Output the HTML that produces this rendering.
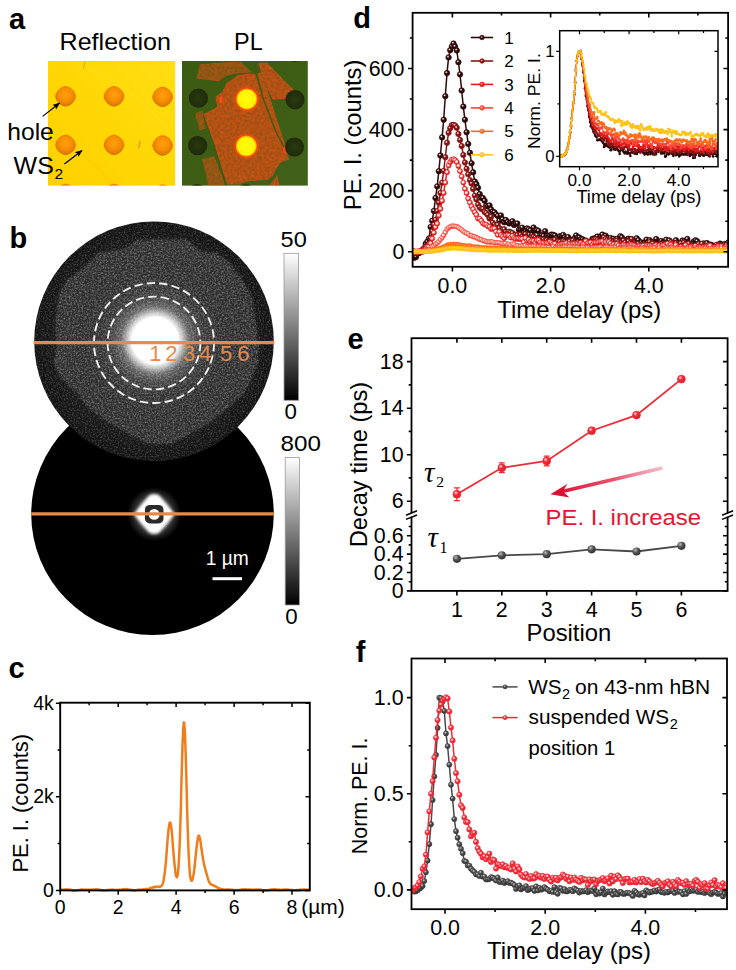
<!DOCTYPE html>
<html><head><meta charset="utf-8"><title>Figure</title>
<style>
html,body{margin:0;padding:0;background:#fff;}
body{width:736px;height:970px;overflow:hidden;font-family:"Liberation Sans",sans-serif;}
svg{display:block;font-family:"Liberation Sans",sans-serif;}
</style></head><body>
<svg width="736" height="970" viewBox="0 0 736 970">
<defs>
<linearGradient id="aYel" x1="0" y1="1" x2="1" y2="0"><stop offset="0" stop-color="#ffd000"/><stop offset="0.5" stop-color="#ffd704"/><stop offset="1" stop-color="#ffde14"/></linearGradient>
<radialGradient id="aHole" cx="0.5" cy="0.42" r="0.55"><stop offset="0" stop-color="#ff9f0a"/><stop offset="0.55" stop-color="#f78f04"/><stop offset="0.85" stop-color="#e67e03"/><stop offset="1" stop-color="#d87406"/></radialGradient>
<filter id="aBlur0" x="-0.1" y="-0.1" width="1.2" height="1.2"><feGaussianBlur stdDeviation="0.35"/></filter>
<clipPath id="aClip1"><rect x="48" y="61" width="127.2" height="124.6"/></clipPath>
<marker id="aArr" viewBox="0 0 10 10" refX="8.5" refY="5" markerWidth="6.5" markerHeight="6.5" orient="auto"><path d="M0 1.2 L10 5 L0 8.8 L2.2 5 Z" fill="#000"/></marker>
<clipPath id="aClip2"><rect x="182" y="61" width="125.8" height="124.6"/></clipPath>
<filter id="aGrain" x="-0.05" y="-0.05" width="1.1" height="1.1"><feGaussianBlur in="SourceGraphic" stdDeviation="0.55" result="s"/><feTurbulence type="fractalNoise" baseFrequency="0.33" numOctaves="2" seed="7" result="n"/><feColorMatrix in="n" type="matrix" values="0 0 0 0 0  0 0 0 0 0  0 0 0 0 0  1.4 1.0 0 0 -0.9" result="a"/><feFlood flood-color="#cf5a1c" result="f"/><feComposite in="f" in2="a" operator="in" result="g"/><feTurbulence type="fractalNoise" baseFrequency="0.4" numOctaves="1" seed="19" result="n2"/><feColorMatrix in="n2" type="matrix" values="0 0 0 0 0  0 0 0 0 0  0 0 0 0 0  0 1.5 0.8 0 -1.0" result="a2"/><feFlood flood-color="#6e5414" result="f2"/><feComposite in="f2" in2="a2" operator="in" result="g2"/><feMerge result="m"><feMergeNode in="s"/><feMergeNode in="g"/><feMergeNode in="g2"/></feMerge><feComposite in="m" in2="s" operator="in"/></filter>
<filter id="aBlur1" x="-0.1" y="-0.1" width="1.2" height="1.2"><feGaussianBlur stdDeviation="0.5"/></filter>
<radialGradient id="aDark" cx="0.5" cy="0.5" r="0.5"><stop offset="0" stop-color="#2b3b0c"/><stop offset="0.7" stop-color="#222f08"/><stop offset="1" stop-color="#1f2a07"/></radialGradient>
<radialGradient id="aSpot" cx="0.5" cy="0.5" r="0.5"><stop offset="0" stop-color="#fffb10"/><stop offset="0.78" stop-color="#fff400"/><stop offset="0.88" stop-color="#ff9a00"/><stop offset="0.96" stop-color="#ff3a08"/><stop offset="1" stop-color="#e0400f" stop-opacity="0.6"/></radialGradient>
<linearGradient id="aGreen" x1="0" y1="0" x2="1" y2="1"><stop offset="0" stop-color="#3a5b10"/><stop offset="1" stop-color="#41601a"/></linearGradient>
<clipPath id="bClipL"><circle cx="152.5" cy="513.8" r="121.3"/></clipPath>
<radialGradient id="bGlowL" cx="0.5" cy="0.5" r="0.5"><stop offset="0" stop-color="#fff"/><stop offset="0.55" stop-color="#fff" stop-opacity="0.95"/><stop offset="0.75" stop-color="#fff" stop-opacity="0.45"/><stop offset="1" stop-color="#fff" stop-opacity="0"/></radialGradient>
<filter id="bBlurS" x="-0.3" y="-0.3" width="1.6" height="1.6"><feGaussianBlur stdDeviation="1.5"/></filter>
<filter id="bBlurT" x="-0.3" y="-0.3" width="1.6" height="1.6"><feGaussianBlur stdDeviation="0.75"/></filter>
<clipPath id="bClipU"><circle cx="154" cy="341.3" r="119.8"/></clipPath>
<radialGradient id="bGlowU" cx="0.5" cy="0.5" r="0.5"><stop offset="0" stop-color="#fff"/><stop offset="0.34" stop-color="#fff"/><stop offset="0.41" stop-color="#fff" stop-opacity="0.7"/><stop offset="0.5" stop-color="#eee" stop-opacity="0.3"/><stop offset="0.65" stop-color="#ccc" stop-opacity="0.11"/><stop offset="0.85" stop-color="#999" stop-opacity="0.03"/><stop offset="1" stop-color="#888" stop-opacity="0"/></radialGradient>
<radialGradient id="bBaseU" cx="0.5" cy="0.5" r="0.5"><stop offset="0" stop-color="#1b1b1b"/><stop offset="0.85" stop-color="#181818"/><stop offset="1" stop-color="#121212"/></radialGradient>
<filter id="bBlurM" x="-0.1" y="-0.1" width="1.2" height="1.2"><feGaussianBlur stdDeviation="1.6"/></filter>
<filter id="bNoise" x="0" y="0" width="1" height="1"><feTurbulence type="fractalNoise" baseFrequency="0.62" numOctaves="2" seed="3" result="n"/><feColorMatrix in="n" type="matrix" values="0 0 0 0 1  0 0 0 0 1  0 0 0 0 1  2.6 0 0 0 -1.12"/></filter>
<clipPath id="bClipB"><polygon points="138,239.6 187,239.6 200,251 216.6,252.6 229.6,262.4 242.7,280 252.5,299.6 255.7,322.4 259,345.2 257.4,364.8 249.2,384.3 242.7,395 229.6,406 210,422.4 187.2,435.4 171,443.6 148,443.6 131.8,435.4 109,422.4 89.4,409.3 76.4,392 69.9,387.6 58.5,374.6 53.6,361.5 56.8,345.2 55.2,322.4 58.5,296.3 66.6,280 86,265.6 99,252.6 125,249"/></clipPath>
<filter id="bNoise2" x="0" y="0" width="1" height="1"><feTurbulence type="fractalNoise" baseFrequency="0.55" numOctaves="2" seed="11" result="n"/><feColorMatrix in="n" type="matrix" values="0 0 0 0 1  0 0 0 0 1  0 0 0 0 1  2.6 0 0 0 -1.12"/></filter>
<linearGradient id="bBar" x1="0" y1="0" x2="0" y2="1"><stop offset="0" stop-color="#fff"/><stop offset="1" stop-color="#000"/></linearGradient>
<clipPath id="cClip"><rect x="60.2" y="700.7" width="249.60000000000002" height="191.69999999999993"/></clipPath>
<radialGradient id="dG0" cx="0.38" cy="0.34" r="0.62"><stop offset="0" stop-color="#fff"/><stop offset="0.16" stop-color="#c9a9a9"/><stop offset="0.42" stop-color="#2e0a0a"/><stop offset="1" stop-color="#2e0a0a"/></radialGradient>
<marker id="dM0" markerUnits="userSpaceOnUse" markerWidth="8" markerHeight="8" refX="4" refY="4"><circle cx="4" cy="4" r="2.75" fill="url(#dG0)" stroke="#2e0a0a" stroke-width="0.7"/></marker>
<marker id="dI0" markerUnits="userSpaceOnUse" markerWidth="5" markerHeight="5" refX="2.5" refY="2.5"><circle cx="2.5" cy="2.5" r="1.25" fill="#2e0a0a"/></marker>
<radialGradient id="dG1" cx="0.38" cy="0.34" r="0.62"><stop offset="0" stop-color="#fff"/><stop offset="0.16" stop-color="#e6b0b0"/><stop offset="0.42" stop-color="#861616"/><stop offset="1" stop-color="#861616"/></radialGradient>
<marker id="dM1" markerUnits="userSpaceOnUse" markerWidth="8" markerHeight="8" refX="4" refY="4"><circle cx="4" cy="4" r="2.7" fill="url(#dG1)" stroke="#861616" stroke-width="0.7"/></marker>
<marker id="dI1" markerUnits="userSpaceOnUse" markerWidth="5" markerHeight="5" refX="2.5" refY="2.5"><circle cx="2.5" cy="2.5" r="1.25" fill="#861616"/></marker>
<radialGradient id="dG2" cx="0.42" cy="0.40" r="0.6"><stop offset="0" stop-color="#fff"/><stop offset="0.35" stop-color="#ffd0d0"/><stop offset="0.8" stop-color="#e51b1b"/><stop offset="1" stop-color="#e51b1b"/></radialGradient>
<marker id="dM2" markerUnits="userSpaceOnUse" markerWidth="8" markerHeight="8" refX="4" refY="4"><circle cx="4" cy="4" r="2.5" fill="url(#dG2)" stroke="#e51b1b" stroke-width="0.7"/></marker>
<marker id="dI2" markerUnits="userSpaceOnUse" markerWidth="5" markerHeight="5" refX="2.5" refY="2.5"><circle cx="2.5" cy="2.5" r="1.25" fill="#e51b1b"/></marker>
<radialGradient id="dG3" cx="0.42" cy="0.40" r="0.6"><stop offset="0" stop-color="#fff"/><stop offset="0.35" stop-color="#fff0ee"/><stop offset="0.8" stop-color="#ff4636"/><stop offset="1" stop-color="#ff4636"/></radialGradient>
<marker id="dM3" markerUnits="userSpaceOnUse" markerWidth="8" markerHeight="8" refX="4" refY="4"><circle cx="4" cy="4" r="2.3" fill="url(#dG3)" stroke="#ff4636" stroke-width="0.7"/></marker>
<marker id="dI3" markerUnits="userSpaceOnUse" markerWidth="5" markerHeight="5" refX="2.5" refY="2.5"><circle cx="2.5" cy="2.5" r="1.25" fill="#ff4636"/></marker>
<radialGradient id="dG4" cx="0.42" cy="0.40" r="0.6"><stop offset="0" stop-color="#fff2e6"/><stop offset="0.4" stop-color="#ff6a1a"/><stop offset="1" stop-color="#ff6a1a"/></radialGradient>
<marker id="dM4" markerUnits="userSpaceOnUse" markerWidth="8" markerHeight="8" refX="4" refY="4"><circle cx="4" cy="4" r="2.1" fill="url(#dG4)" stroke="#ff6a1a" stroke-width="0.7"/></marker>
<marker id="dI4" markerUnits="userSpaceOnUse" markerWidth="5" markerHeight="5" refX="2.5" refY="2.5"><circle cx="2.5" cy="2.5" r="1.25" fill="#ff6a1a"/></marker>
<radialGradient id="dG5" cx="0.42" cy="0.40" r="0.6"><stop offset="0" stop-color="#fff6d8"/><stop offset="0.4" stop-color="#ffc318"/><stop offset="1" stop-color="#ffc318"/></radialGradient>
<marker id="dM5" markerUnits="userSpaceOnUse" markerWidth="8" markerHeight="8" refX="4" refY="4"><circle cx="4" cy="4" r="2.1" fill="url(#dG5)" stroke="#ffc318" stroke-width="0.7"/></marker>
<marker id="dI5" markerUnits="userSpaceOnUse" markerWidth="5" markerHeight="5" refX="2.5" refY="2.5"><circle cx="2.5" cy="2.5" r="1.25" fill="#ffc318"/></marker>
<clipPath id="dClip"><rect x="412.6" y="12.8" width="315.5" height="254.0"/></clipPath>
<radialGradient id="dL0" cx="0.4" cy="0.38" r="0.6"><stop offset="0" stop-color="#c9a9a9"/><stop offset="0.5" stop-color="#2e0a0a"/><stop offset="1" stop-color="#2e0a0a"/></radialGradient>
<radialGradient id="dL1" cx="0.4" cy="0.38" r="0.6"><stop offset="0" stop-color="#e6b0b0"/><stop offset="0.5" stop-color="#861616"/><stop offset="1" stop-color="#861616"/></radialGradient>
<radialGradient id="dL2" cx="0.4" cy="0.38" r="0.6"><stop offset="0" stop-color="#ffd0d0"/><stop offset="0.5" stop-color="#e51b1b"/><stop offset="1" stop-color="#e51b1b"/></radialGradient>
<radialGradient id="dL3" cx="0.4" cy="0.38" r="0.6"><stop offset="0" stop-color="#fff0ee"/><stop offset="0.5" stop-color="#ff4636"/><stop offset="1" stop-color="#ff4636"/></radialGradient>
<radialGradient id="dL4" cx="0.4" cy="0.38" r="0.6"><stop offset="0" stop-color="#fff2e6"/><stop offset="0.5" stop-color="#ff6a1a"/><stop offset="1" stop-color="#ff6a1a"/></radialGradient>
<radialGradient id="dL5" cx="0.4" cy="0.38" r="0.6"><stop offset="0" stop-color="#fff6d8"/><stop offset="0.5" stop-color="#ffc318"/><stop offset="1" stop-color="#ffc318"/></radialGradient>
<clipPath id="iClip"><rect x="559.7" y="30.7" width="158.29999999999995" height="136.0"/></clipPath>
<radialGradient id="eGR" cx="0.36" cy="0.32" r="0.65"><stop offset="0" stop-color="#ffd9dc"/><stop offset="0.45" stop-color="#ee2a36"/><stop offset="1" stop-color="#e21f2c"/></radialGradient>
<radialGradient id="eGG" cx="0.36" cy="0.32" r="0.65"><stop offset="0" stop-color="#b9b9b9"/><stop offset="0.5" stop-color="#555"/><stop offset="1" stop-color="#333"/></radialGradient>
<linearGradient id="eArr" gradientUnits="userSpaceOnUse" x1="662.4" y1="468" x2="556" y2="493"><stop offset="0" stop-color="#f4a6b4" stop-opacity="0.75"/><stop offset="0.45" stop-color="#e9536f"/><stop offset="1" stop-color="#dc1238"/></linearGradient>
<radialGradient id="fGG" cx="0.38" cy="0.34" r="0.62"><stop offset="0" stop-color="#cfcfcf"/><stop offset="0.5" stop-color="#4a4a4a"/><stop offset="1" stop-color="#3a3a3a"/></radialGradient>
<radialGradient id="fGR" cx="0.38" cy="0.34" r="0.62"><stop offset="0" stop-color="#ffeaea"/><stop offset="0.22" stop-color="#ffb4b8"/><stop offset="0.55" stop-color="#ee2a36"/><stop offset="1" stop-color="#ee2a36"/></radialGradient>
<marker id="fMG" markerUnits="userSpaceOnUse" markerWidth="8" markerHeight="8" refX="4" refY="4"><circle cx="4" cy="4" r="2.6" fill="url(#fGG)" stroke="#3c3c3c" stroke-width="0.5"/></marker>
<marker id="fMR" markerUnits="userSpaceOnUse" markerWidth="8" markerHeight="8" refX="4" refY="4"><circle cx="4" cy="4" r="2.6" fill="url(#fGR)" stroke="#ee2a36" stroke-width="0.7"/></marker>
<clipPath id="fClip"><rect x="411.5" y="658.5" width="315.5" height="250.70000000000005"/></clipPath>
</defs>
<rect width="736" height="970" fill="#fff"/>
<g id="panel-a">
<text x="9.00" y="28.80" font-size="29" font-weight="bold">a</text>
<text x="59.60" y="50.00" font-size="24" textLength="111.4" lengthAdjust="spacingAndGlyphs">Reflection</text>
<text x="234.00" y="50.00" font-size="24" textLength="28.7" lengthAdjust="spacingAndGlyphs">PL</text>
<rect x="48" y="61" width="127.2" height="124.6" fill="url(#aYel)"/>
<g clip-path="url(#aClip1)">
<path d="M48 140 Q 90 150 112 186" fill="none" stroke="#f3c300" stroke-width="1" opacity="0.7"/>
<path d="M60 61 Q 110 70 150 110 T 175 175" fill="none" stroke="#ffe23a" stroke-width="1.2" opacity="0.3"/>
<path d="M85.1 61.4 L83.6 68.8" stroke="#f29a10" stroke-width="1"/>
<path d="M140.2 140.8 L138.6 148.2" stroke="#f0860c" stroke-width="1.2"/>
<polygon points="75.9,96.3 75.8,97.3 75.5,98.4 75,99.7 74.3,100.9 73.5,102.1 72.5,103.2 71.4,104.2 70.2,105 69,105.7 67.7,106.2 66.6,106.5 65.6,106.6 64.6,106.5 63.5,106.2 62.2,105.7 61,105 59.8,104.2 58.7,103.2 57.7,102.1 56.9,100.9 56.2,99.7 55.7,98.4 55.4,97.3 55.3,96.3 55.4,95.3 55.7,94.2 56.2,92.9 56.9,91.7 57.7,90.5 58.7,89.4 59.8,88.4 61,87.6 62.2,86.9 63.5,86.4 64.6,86.1 65.6,86 66.6,86.1 67.7,86.4 69,86.9 70.2,87.6 71.4,88.4 72.5,89.4 73.5,90.5 74.3,91.7 75,92.9 75.5,94.2 75.8,95.3" fill="url(#aHole)" filter="url(#aBlur0)"/>
<polygon points="124.3,96.3 124.2,97.3 123.9,98.4 123.4,99.7 122.7,100.9 121.9,102.1 120.9,103.2 119.8,104.2 118.6,105 117.4,105.7 116.1,106.2 115,106.5 114,106.6 113,106.5 111.9,106.2 110.6,105.7 109.4,105 108.2,104.2 107.1,103.2 106.1,102.1 105.3,100.9 104.6,99.7 104.1,98.4 103.8,97.3 103.7,96.3 103.8,95.3 104.1,94.2 104.6,92.9 105.3,91.7 106.1,90.5 107.1,89.4 108.2,88.4 109.4,87.6 110.6,86.9 111.9,86.4 113,86.1 114,86 115,86.1 116.1,86.4 117.4,86.9 118.6,87.6 119.8,88.4 120.9,89.4 121.9,90.5 122.7,91.7 123.4,92.9 123.9,94.2 124.2,95.3" fill="url(#aHole)" filter="url(#aBlur0)"/>
<polygon points="172.9,96.9 172.8,97.9 172.5,99 172,100.3 171.3,101.5 170.5,102.7 169.5,103.8 168.4,104.8 167.2,105.6 166,106.3 164.7,106.8 163.6,107.1 162.6,107.2 161.6,107.1 160.5,106.8 159.2,106.3 158,105.6 156.8,104.8 155.7,103.8 154.7,102.7 153.9,101.5 153.2,100.3 152.7,99 152.4,97.9 152.3,96.9 152.4,95.9 152.7,94.8 153.2,93.5 153.9,92.3 154.7,91.1 155.7,90 156.8,89 158,88.2 159.2,87.5 160.5,87 161.6,86.7 162.6,86.6 163.6,86.7 164.7,87 166,87.5 167.2,88.2 168.4,89 169.5,90 170.5,91.1 171.3,92.3 172,93.5 172.5,94.8 172.8,95.9" fill="url(#aHole)" filter="url(#aBlur0)"/>
<polygon points="75.9,144.9 75.8,145.9 75.5,147 75,148.3 74.3,149.5 73.5,150.7 72.5,151.8 71.4,152.8 70.2,153.6 69,154.3 67.7,154.8 66.6,155.1 65.6,155.2 64.6,155.1 63.5,154.8 62.2,154.3 61,153.6 59.8,152.8 58.7,151.8 57.7,150.7 56.9,149.5 56.2,148.3 55.7,147 55.4,145.9 55.3,144.9 55.4,143.9 55.7,142.8 56.2,141.5 56.9,140.3 57.7,139.1 58.7,138 59.8,137 61,136.2 62.2,135.5 63.5,135 64.6,134.7 65.6,134.6 66.6,134.7 67.7,135 69,135.5 70.2,136.2 71.4,137 72.5,138 73.5,139.1 74.3,140.3 75,141.5 75.5,142.8 75.8,143.9" fill="url(#aHole)" filter="url(#aBlur0)"/>
<polygon points="124.3,144.9 124.2,145.9 123.9,147 123.4,148.3 122.7,149.5 121.9,150.7 120.9,151.8 119.8,152.8 118.6,153.6 117.4,154.3 116.1,154.8 115,155.1 114,155.2 113,155.1 111.9,154.8 110.6,154.3 109.4,153.6 108.2,152.8 107.1,151.8 106.1,150.7 105.3,149.5 104.6,148.3 104.1,147 103.8,145.9 103.7,144.9 103.8,143.9 104.1,142.8 104.6,141.5 105.3,140.3 106.1,139.1 107.1,138 108.2,137 109.4,136.2 110.6,135.5 111.9,135 113,134.7 114,134.6 115,134.7 116.1,135 117.4,135.5 118.6,136.2 119.8,137 120.9,138 121.9,139.1 122.7,140.3 123.4,141.5 123.9,142.8 124.2,143.9" fill="url(#aHole)" filter="url(#aBlur0)"/>
<polygon points="172.9,145.5 172.8,146.5 172.5,147.6 172,148.9 171.3,150.1 170.5,151.3 169.5,152.4 168.4,153.4 167.2,154.2 166,154.9 164.7,155.4 163.6,155.7 162.6,155.8 161.6,155.7 160.5,155.4 159.2,154.9 158,154.2 156.8,153.4 155.7,152.4 154.7,151.3 153.9,150.1 153.2,148.9 152.7,147.6 152.4,146.5 152.3,145.5 152.4,144.5 152.7,143.4 153.2,142.1 153.9,140.9 154.7,139.7 155.7,138.6 156.8,137.6 158,136.8 159.2,136.1 160.5,135.6 161.6,135.3 162.6,135.2 163.6,135.3 164.7,135.6 166,136.1 167.2,136.8 168.4,137.6 169.5,138.6 170.5,139.7 171.3,140.9 172,142.1 172.5,143.4 172.8,144.5" fill="url(#aHole)" filter="url(#aBlur0)"/>
<polygon points="75.9,194 75.8,195 75.5,196.1 75,197.4 74.3,198.6 73.5,199.8 72.5,200.9 71.4,201.9 70.2,202.7 69,203.4 67.7,203.9 66.6,204.2 65.6,204.3 64.6,204.2 63.5,203.9 62.2,203.4 61,202.7 59.8,201.9 58.7,200.9 57.7,199.8 56.9,198.6 56.2,197.4 55.7,196.1 55.4,195 55.3,194 55.4,193 55.7,191.9 56.2,190.6 56.9,189.4 57.7,188.2 58.7,187.1 59.8,186.1 61,185.3 62.2,184.6 63.5,184.1 64.6,183.8 65.6,183.7 66.6,183.8 67.7,184.1 69,184.6 70.2,185.3 71.4,186.1 72.5,187.1 73.5,188.2 74.3,189.4 75,190.6 75.5,191.9 75.8,193" fill="url(#aHole)" filter="url(#aBlur0)"/>
<polygon points="124.3,194 124.2,195 123.9,196.1 123.4,197.4 122.7,198.6 121.9,199.8 120.9,200.9 119.8,201.9 118.6,202.7 117.4,203.4 116.1,203.9 115,204.2 114,204.3 113,204.2 111.9,203.9 110.6,203.4 109.4,202.7 108.2,201.9 107.1,200.9 106.1,199.8 105.3,198.6 104.6,197.4 104.1,196.1 103.8,195 103.7,194 103.8,193 104.1,191.9 104.6,190.6 105.3,189.4 106.1,188.2 107.1,187.1 108.2,186.1 109.4,185.3 110.6,184.6 111.9,184.1 113,183.8 114,183.7 115,183.8 116.1,184.1 117.4,184.6 118.6,185.3 119.8,186.1 120.9,187.1 121.9,188.2 122.7,189.4 123.4,190.6 123.9,191.9 124.2,193" fill="url(#aHole)" filter="url(#aBlur0)"/>
<polygon points="172.9,194.6 172.8,195.6 172.5,196.7 172,198 171.3,199.2 170.5,200.4 169.5,201.5 168.4,202.5 167.2,203.3 166,204 164.7,204.5 163.6,204.8 162.6,204.9 161.6,204.8 160.5,204.5 159.2,204 158,203.3 156.8,202.5 155.7,201.5 154.7,200.4 153.9,199.2 153.2,198 152.7,196.7 152.4,195.6 152.3,194.6 152.4,193.6 152.7,192.5 153.2,191.2 153.9,190 154.7,188.8 155.7,187.7 156.8,186.7 158,185.9 159.2,185.2 160.5,184.7 161.6,184.4 162.6,184.3 163.6,184.4 164.7,184.7 166,185.2 167.2,185.9 168.4,186.7 169.5,187.7 170.5,188.8 171.3,190 172,191.2 172.5,192.5 172.8,193.6" fill="url(#aHole)" filter="url(#aBlur0)"/>
</g>
<text x="7.30" y="139.60" font-size="24" textLength="46.5" lengthAdjust="spacingAndGlyphs">hole</text>
<text x="13.60" y="174.30" font-size="24" textLength="40.2" lengthAdjust="spacingAndGlyphs">WS</text>
<text x="54.40" y="178.60" font-size="15.5">2</text>
<path d="M42.6 116.4 L59.3 103.3" stroke="#000" stroke-width="1.2" marker-end="url(#aArr)"/>
<path d="M64.4 163.9 L81.8 150.7" stroke="#000" stroke-width="1.2" marker-end="url(#aArr)"/>
<rect x="182" y="61" width="125.8" height="124.6" fill="url(#aGreen)"/>
<g clip-path="url(#aClip2)">
<g fill="#b4501c" filter="url(#aGrain)">
<polygon points="199.8,64.2 229.9,61.8 240.8,61.8 252.6,72.4 238.1,73.3 226.2,76 219,81.5 196.2,78.8" opacity="0.82"/>
<polygon points="203.5,114.3 217.1,107 215.3,97 222.6,91.5 226.2,83.3 238.1,75.1 250.8,73.3 255.4,74.2 258.1,83.3 260.8,92.4 269,116.1 277.2,134.3 284.5,147 289.1,159.8 280.9,162.5 276.3,168.9 272.7,176.2 267.2,179.8 247.2,181.6 239.9,184.4 227.2,184.4 223.5,174.3 213.5,143.4 203.5,117.9"/>
<polygon points="258.1,62.4 267.2,62.4 280,76 294.5,90.6 287.2,92.4 285.4,98.8 272.7,99.7 267.2,88.8 260.8,72.4"/>
<polygon points="196.2,112.4 202.6,110.6 205.3,128.8 199.8,130.6 195.3,116.1" opacity="0.82"/>
<polygon points="201.7,158.9 214.4,156.1 225.7,185.6 208,185.6 205.3,172.5" opacity="0.82"/>
<polygon points="269,185.6 277.2,175.3 279.6,185.6"/>
<polygon points="256.3,73.3 260.8,72.4 267.2,88.8 280,128.8 287.2,150.7 289.4,160.1 284.5,147 277.2,134.3 269,116.1 260.8,92.4"/>
</g>
<path d="M254.1,61.5 L256.7,74.2 L263.6,99.7 L276.3,132.5 L285.8,150.7" fill="none" stroke="#3e5a12" stroke-width="1.5" opacity="0.95"/>
<path d="M203.5,116.1 L214.4,147 L226.2,185.6" fill="none" stroke="#3c5a12" stroke-width="1.4"/>
<ellipse cx="221.1" cy="99.7" rx="1.4" ry="3.6" fill="#ff4a10" filter="url(#aBlur1)"/>
<ellipse cx="284.9" cy="149.8" rx="1.8" ry="3.2" fill="#ff4a10" filter="url(#aBlur1)"/>
<circle cx="198.4" cy="98.2" r="9.6" fill="url(#aDark)" filter="url(#aBlur1)"/>
<circle cx="295.1" cy="99.7" r="9.6" fill="url(#aDark)" filter="url(#aBlur1)"/>
<circle cx="197.7" cy="145.6" r="9.6" fill="url(#aDark)" filter="url(#aBlur1)"/>
<circle cx="294.5" cy="147.0" r="9.6" fill="url(#aDark)" filter="url(#aBlur1)"/>
<circle cx="197.1" cy="193.5" r="9.6" fill="url(#aDark)" filter="url(#aBlur1)"/>
<circle cx="245.7" cy="193.8" r="9.6" fill="url(#aDark)" filter="url(#aBlur1)"/>
<circle cx="294.5" cy="52.4" r="9.6" fill="url(#aDark)" filter="url(#aBlur1)"/>
<circle cx="245.7" cy="51.4" r="9.6" fill="url(#aDark)" filter="url(#aBlur1)"/>
<circle cx="246.8" cy="99.1" r="12.6" fill="#ff5410" opacity="0.45" filter="url(#aBlur1)"/>
<circle cx="246.8" cy="99.1" r="11.4" fill="url(#aSpot)"/>
<circle cx="246.3" cy="146.1" r="12.6" fill="#ff5410" opacity="0.45" filter="url(#aBlur1)"/>
<circle cx="246.3" cy="146.1" r="11.4" fill="url(#aSpot)"/>
</g>
</g>
<g id="panel-b">
<text x="9.50" y="247.60" font-size="29" font-weight="bold">b</text>
<circle cx="152.5" cy="513.8" r="121.3" fill="#000"/>
<circle cx="154.2" cy="514.2" r="27" fill="url(#bGlowL)" opacity="0.35"/>
<path d="M133.7 514.2 Q140.2 505.20000000000005 149.2 495.20000000000005 Q154.2 492.70000000000005 159.2 495.20000000000005 Q168.2 505.20000000000005 174.7 514.2 Q168.2 523.2 159.2 532.7 Q154.2 535.2 149.2 532.7 Q140.2 523.2 133.7 514.2 Z" fill="#fff" filter="url(#bBlurS)"/>
<rect x="144.89999999999998" y="504.90000000000003" width="18.6" height="18.6" rx="5" fill="#2a2a2a" filter="url(#bBlurT)"/>
<circle cx="154.2" cy="514.4000000000001" r="5.4" fill="#fff" filter="url(#bBlurT)"/>
<path d="M31.2 513.8 H273.8" stroke="#e78b48" stroke-width="3.3"/>
<text x="205.80" y="564.60" font-size="20" fill="#fff" textLength="43.0" lengthAdjust="spacingAndGlyphs">1 µm</text>
<rect x="212.5" y="577.2" width="29.5" height="3" fill="#fff"/>
<circle cx="154" cy="341.3" r="119.8" fill="url(#bBaseU)"/>
<g clip-path="url(#bClipU)">
<polygon points="138,239.6 187,239.6 200,251 216.6,252.6 229.6,262.4 242.7,280 252.5,299.6 255.7,322.4 259,345.2 257.4,364.8 249.2,384.3 242.7,395 229.6,406 210,422.4 187.2,435.4 171,443.6 148,443.6 131.8,435.4 109,422.4 89.4,409.3 76.4,392 69.9,387.6 58.5,374.6 53.6,361.5 56.8,345.2 55.2,322.4 58.5,296.3 66.6,280 86,265.6 99,252.6 125,249" fill="#2b2b2b" filter="url(#bBlurM)"/>
<circle cx="155" cy="340.5" r="68" fill="url(#bGlowU)"/>
<rect x="30" y="218" width="250" height="248" fill="#fff" filter="url(#bNoise)" opacity="0.2"/>
<g clip-path="url(#bClipB)"><rect x="30" y="218" width="250" height="248" fill="#fff" filter="url(#bNoise2)" opacity="0.26"/></g>
</g>
<circle cx="154" cy="343" r="60" fill="none" stroke="#efefef" stroke-width="1.9" stroke-dasharray="8.4 4.1"/>
<circle cx="154" cy="343" r="46.4" fill="none" stroke="#efefef" stroke-width="1.9" stroke-dasharray="8.4 4.1"/>
<path d="M33.6 342.6 H274.4" stroke="#e78b48" stroke-width="3.3"/>
<text x="155.40" y="360.80" font-size="22" text-anchor="middle" fill="#e78b48">1</text>
<text x="171.40" y="360.80" font-size="22" text-anchor="middle" fill="#e78b48">2</text>
<text x="189.20" y="360.80" font-size="22" text-anchor="middle" fill="#e78b48">3</text>
<text x="205.20" y="360.80" font-size="22" text-anchor="middle" fill="#e78b48">4</text>
<text x="226.20" y="360.80" font-size="22" text-anchor="middle" fill="#e78b48">5</text>
<text x="243.40" y="360.80" font-size="22" text-anchor="middle" fill="#e78b48">6</text>
<rect x="284" y="253.3" width="14.6" height="147" fill="url(#bBar)" stroke="#9a9a9a" stroke-width="0.8"/>
<rect x="285.2" y="457.6" width="14.2" height="147.4" fill="url(#bBar)" stroke="#9a9a9a" stroke-width="0.8"/>
<text x="280.60" y="247.20" font-size="22.3" textLength="26.2" lengthAdjust="spacingAndGlyphs">50</text>
<text x="284.60" y="419.40" font-size="22.3">0</text>
<text x="280.60" y="451.40" font-size="22.3" textLength="40.4" lengthAdjust="spacingAndGlyphs">800</text>
<text x="285.20" y="624.40" font-size="22.3">0</text>
</g>
<g id="panel-c">
<text x="8.60" y="677.60" font-size="29" font-weight="bold">c</text>
<polyline clip-path="url(#cClip)" points="60.2,889.9 60.8,889.8 61.4,889.6 61.9,889.8 62.5,889.7 63.1,889.6 63.7,889.8 64.3,889.6 64.8,889.5 65.4,889.4 66,889.7 66.6,889.6 67.2,889.7 67.7,889.4 68.3,889.5 68.9,889.9 69.5,889.5 70.1,889.6 70.6,889.8 71.2,889.9 71.8,890.3 72.4,890.5 73,890.2 73.5,890.6 74.1,890.5 74.7,890.5 75.3,890.7 75.8,890.4 76.4,890.4 77,890.1 77.6,890.2 78.2,890.1 78.7,890.1 79.3,889.9 79.9,889.9 80.5,889.9 81.1,889.5 81.6,889.4 82.2,889.5 82.8,889.5 83.4,889.7 84,889.8 84.5,889.8 85.1,889.9 85.7,889.6 86.3,889.8 86.9,889.6 87.4,889.9 88,889.6 88.6,889.7 89.2,890.1 89.8,890 90.3,889.6 90.9,889.8 91.5,889.5 92.1,889.8 92.7,889.9 93.2,889.5 93.8,889.4 94.4,889.6 95,889.7 95.6,889.5 96.1,889.1 96.7,889.3 97.3,889.7 97.9,889.6 98.5,889.8 99,889.9 99.6,889.6 100.2,890 100.8,889.9 101.4,890.1 101.9,890.3 102.5,890.1 103.1,890.5 103.7,890.2 104.2,890.6 104.8,890.4 105.4,890.5 106,890.4 106.6,890 107.1,890 107.7,890.3 108.3,889.9 108.9,890.2 109.5,890 110,889.7 110.6,889.7 111.2,890 111.8,889.5 112.4,889.9 112.9,889.9 113.5,889.6 114.1,889.9 114.7,889.9 115.3,890.1 115.8,890.1 116.4,889.9 117,890.1 117.6,889.9 118.2,890 118.7,890 119.3,889.6 119.9,889.9 120.5,889.8 121.1,889.5 121.6,889.9 122.2,889.8 122.8,889.3 123.4,889.3 124,889.5 124.5,889.5 125.1,889.2 125.7,889.1 126.3,889.5 126.9,889.1 127.4,889.2 128,889.4 128.6,889.6 129.2,889.9 129.8,890 130.3,889.6 130.9,890.1 131.5,889.9 132.1,890.2 132.7,890 133.2,890.2 133.8,890.4 134.4,890.4 135,890.1 135.5,890.4 136.1,890.3 136.7,890 137.3,889.8 137.9,889.9 138.4,890 139,889.5 139.6,889.8 140.2,889.9 140.8,889.7 141.3,889.5 141.9,889.7 142.5,889.6 143.1,889.4 143.7,889.3 144.2,889.5 144.8,889.3 145.4,889 146,888.9 146.6,889 147.1,888.9 147.7,888.9 148.3,889 148.9,888.9 149.5,888.7 150,888.1 150.6,888 151.2,887.7 151.8,888 152.4,887.5 152.9,887.4 153.5,887.1 154.1,887.2 154.7,886.7 155.3,887.2 155.8,886.9 156.4,886.7 157,886.6 157.6,886.8 158.2,886.8 158.7,886.8 159.3,886.7 159.9,887 160.5,886.7 161.1,886.3 161.6,885.7 162.2,885.1 162.8,883.4 163.4,881.3 163.9,878.5 164.5,874.6 165.1,869.8 165.7,863.8 166.3,857 166.8,850 167.4,842.2 168,835.1 168.6,829.2 169.2,824.9 169.7,822.8 170.3,822.6 170.9,824.8 171.5,829.1 172.1,834.7 172.6,842 173.2,849 173.8,856.6 174.4,862.8 175,868.6 175.5,873.1 176.1,875.9 176.7,877.3 177.3,876.7 177.9,873.6 178.4,868.2 179,859.2 179.6,846.2 180.2,829.3 180.8,809.6 181.3,787.7 181.9,765.2 182.5,745.6 183.1,730.7 183.7,722.4 184.2,722.7 184.8,730.5 185.4,745.6 186,765.1 186.6,787 187.1,808.9 187.7,828.9 188.3,846 188.9,859 189.5,868.7 190,875.3 190.6,878.9 191.2,880.6 191.8,880.8 192.3,879.9 192.9,877.7 193.5,875 194.1,871 194.7,866 195.2,860.6 195.8,854.8 196.4,849 197,843.8 197.6,839.7 198.1,837 198.7,835.6 199.3,836 199.9,838.3 200.5,841.7 201,845.7 201.6,849.5 202.2,854.1 202.8,857.5 203.4,860.9 203.9,863.8 204.5,866 205.1,868.6 205.7,870.6 206.3,872.6 206.8,874.9 207.4,876.6 208,878.8 208.6,880.6 209.2,882.1 209.7,882.8 210.3,883.8 210.9,884.2 211.5,884.6 212.1,884.8 212.6,884.9 213.2,885.3 213.8,885.8 214.4,885.8 215,886.3 215.5,886.6 216.1,886.7 216.7,886.9 217.3,887.5 217.9,887.8 218.4,888.1 219,888.2 219.6,888.5 220.2,888.7 220.7,888.9 221.3,889.3 221.9,889.2 222.5,889.2 223.1,889.8 223.6,889.4 224.2,889.5 224.8,889.8 225.4,889.7 226,889.6 226.5,889.4 227.1,889.7 227.7,889.6 228.3,889.4 228.9,889.5 229.4,889.4 230,889.8 230.6,889.7 231.2,890 231.8,889.8 232.3,889.8 232.9,890 233.5,890 234.1,890.4 234.7,890.1 235.2,890 235.8,890.1 236.4,890.3 237,890.1 237.6,890.3 238.1,889.9 238.7,889.9 239.3,890.1 239.9,890.1 240.5,889.8 241,889.7 241.6,889.5 242.2,889.5 242.8,889.7 243.4,889.2 243.9,889.6 244.5,889.2 245.1,889.6 245.7,889.5 246.3,889.3 246.8,889.7 247.4,889.8 248,889.6 248.6,889.6 249.1,889.6 249.7,889.7 250.3,889.6 250.9,889.9 251.5,889.6 252,890.1 252.6,890 253.2,889.8 253.8,889.9 254.4,889.6 254.9,889.7 255.5,889.7 256.1,889.5 256.7,889.6 257.3,889.7 257.8,889.7 258.4,889.5 259,889.5 259.6,889.9 260.2,889.6 260.7,889.6 261.3,890 261.9,890 262.5,890.3 263.1,890.2 263.6,890.3 264.2,890.3 264.8,890.6 265.4,890.1 266,890.4 266.5,890.4 267.1,890.1 267.7,890.2 268.3,890.2 268.9,890 269.4,890.2 270,889.9 270.6,889.8 271.2,889.4 271.8,889.4 272.3,889.7 272.9,889.5 273.5,889.7 274.1,889.5 274.7,889.3 275.2,889.3 275.8,889.5 276.4,889.7 277,889.8 277.5,889.6 278.1,889.5 278.7,890 279.3,889.6 279.9,890.1 280.4,890 281,890 281.6,889.7 282.2,889.9 282.8,889.8 283.3,889.6 283.9,889.9 284.5,889.5 285.1,889.8 285.7,889.5 286.2,889.7 286.8,889.7 287.4,889.5 288,889.6 288.6,889.7 289.1,889.7 289.7,889.7 290.3,890 290.9,890.1 291.5,889.9 292,890 292.6,890.2 293.2,890.1 293.8,890.3 294.4,890.2 294.9,890.5 295.5,890.3 296.1,890.2 296.7,890.1 297.3,890.4 297.8,890.3 298.4,889.9 299,890.2 299.6,889.7 300.2,889.6 300.7,890 301.3,889.9 301.9,889.5 302.5,889.8 303.1,889.8 303.6,889.4 304.2,889.6 304.8,889.4 305.4,889.9 306,889.7 306.5,889.6 307.1,890 307.7,890 308.3,889.7 308.8,889.6 309.4,889.6 310,890.1" fill="none" stroke="#f07d1c" stroke-width="2.5" stroke-linejoin="round"/>
<path d="M60.2 890.4 v4.3 M60.2 702.7 v4.3 M89.2 890.4 v2.6 M89.2 702.7 v2.6 M118.2 890.4 v4.3 M118.2 702.7 v4.3 M147.1 890.4 v2.6 M147.1 702.7 v2.6 M176.1 890.4 v4.3 M176.1 702.7 v4.3 M205.1 890.4 v2.6 M205.1 702.7 v2.6 M234.1 890.4 v4.3 M234.1 702.7 v4.3 M263.1 890.4 v2.6 M263.1 702.7 v2.6 M292.0 890.4 v4.3 M292.0 702.7 v4.3 M60.2 890.4 h-4.3 M309.8 890.4 h-4.3 M60.2 843.6 h-2.6 M309.8 843.6 h-2.6 M60.2 796.8 h-4.3 M309.8 796.8 h-4.3 M60.2 750.0 h-2.6 M309.8 750.0 h-2.6 M60.2 703.2 h-4.3 M309.8 703.2 h-4.3" stroke="#000" stroke-width="1.5" fill="none"/>
<rect x="60.2" y="702.7" width="249.60000000000002" height="187.69999999999993" fill="none" stroke="#000" stroke-width="1.9"/>
<text x="60.20" y="913.90" font-size="19.5" text-anchor="middle">0</text>
<text x="118.16" y="913.90" font-size="19.5" text-anchor="middle">2</text>
<text x="176.12" y="913.90" font-size="19.5" text-anchor="middle">4</text>
<text x="234.08" y="913.90" font-size="19.5" text-anchor="middle">6</text>
<text x="292.04" y="913.90" font-size="19.5" text-anchor="middle">8</text>
<text x="301.20" y="913.90" font-size="19.5" textLength="43.5" lengthAdjust="spacingAndGlyphs">(µm)</text>
<text x="53.80" y="709.50" font-size="19.5" text-anchor="end">4k</text>
<text x="53.80" y="803.40" font-size="19.5" text-anchor="end">2k</text>
<text x="53.80" y="896.80" font-size="19.5" text-anchor="end">0</text>
<text transform="translate(28.30,803.20) rotate(-90)" font-size="22" text-anchor="middle" textLength="138.6" lengthAdjust="spacingAndGlyphs">PE. I. (counts)</text>
</g>
<g id="panel-d">
<text x="353.20" y="28.20" font-size="29" font-weight="bold">d</text>
<g clip-path="url(#dClip)">
<polyline points="412.6,257.2 414.3,257.8 415.9,257.1 417.5,253.3 419.2,253.1 420.8,251.7 422.4,249.9 424.1,248.8 425.7,243.8 427.3,241.7 429,238.5 430.6,227 432.2,220.8 433.9,210.9 435.5,198 437.2,186.4 438.8,171.2 440.4,155.5 442.1,137.4 443.7,119.7 445.3,96.2 447,73.1 448.6,57.4 450.2,50.2 451.9,46.4 453.5,43.5 455.1,46.6 456.8,50.4 458.4,62.2 460,74.4 461.7,90.5 463.3,106.6 464.9,119.7 466.6,132.3 468.2,143.9 469.9,152.8 471.5,163.3 473.1,172.3 474.8,181.5 476.4,184.1 478,187.8 479.7,194.1 481.3,197.9 482.9,198.1 484.6,200.8 486.2,205.7 487.8,206.5 489.5,205.4 491.1,209.4 492.7,211.6 494.4,212.3 496,214.4 497.7,215.9 499.3,220.8 500.9,215.4 502.6,219.3 504.2,222.3 505.8,220 507.5,222.1 509.1,223.5 510.7,222.5 512.4,221.2 514,225 515.6,223.8 517.3,223.5 518.9,229.8 520.5,229.5 522.2,227.7 523.8,232.6 525.4,230.6 527.1,228.4 528.7,229.2 530.4,230.4 532,234.9 533.6,227.6 535.3,230.6 536.9,230.2 538.5,230.9 540.2,235.2 541.8,235.5 543.4,235.9 545.1,231.2 546.7,236.3 548.3,235.6 550,235.8 551.6,234.6 553.2,234.9 554.9,235.5 556.5,238.2 558.1,241.6 559.8,236.2 561.4,236.3 563.1,234.9 564.7,237.3 566.3,238.4 568,237 569.6,240.5 571.2,239.9 572.9,240.1 574.5,238.2 576.1,235.5 577.8,237.9 579.4,237.5 581,239.2 582.7,239.3 584.3,240.7 585.9,240.6 587.6,244.2 589.2,242.3 590.8,242.4 592.5,238.8 594.1,238.8 595.8,237.7 597.4,236.6 599,239.1 600.7,236.4 602.3,234.6 603.9,237.5 605.6,235.7 607.2,237.9 608.8,240.5 610.5,238 612.1,239.9 613.7,238.8 615.4,240 617,238.9 618.6,243 620.3,236.2 621.9,237.4 623.5,240.2 625.2,241.2 626.8,239.7 628.5,238.7 630.1,239.2 631.7,239.3 633.4,243.3 635,242.1 636.6,238.2 638.3,240.2 639.9,243.2 641.5,242.4 643.2,243.5 644.8,243 646.4,239.7 648.1,242.2 649.7,240.2 651.3,241.9 653,244.9 654.6,243.6 656.2,239 657.9,244.1 659.5,244.7 661.2,241 662.8,242.7 664.4,242.6 666.1,239.7 667.7,244.4 669.3,240.4 671,242.7 672.6,243.4 674.2,242.9 675.9,240.2 677.5,242.8 679.1,245.9 680.8,244.9 682.4,240.6 684,241.4 685.7,244.8 687.3,239 688.9,243.6 690.6,244.9 692.2,243.2 693.9,241.4 695.5,240.3 697.1,241.3 698.8,243.7 700.4,244 702,245.6 703.7,243.4 705.3,244.4 706.9,243.1 708.6,245.7 710.2,244.6 711.8,245.3 713.5,246 715.1,246.1 716.7,246 718.4,246.4 720,243.6 721.6,244.5 723.3,246.9 724.9,244 726.6,244.4 728.2,242.6" fill="none" stroke="#2e0a0a" stroke-width="1.5" stroke-linejoin="round" marker-start="url(#dM0)" marker-mid="url(#dM0)" marker-end="url(#dM0)"/>
<polyline points="412.6,254 414.3,253.4 415.9,253.1 417.5,252.3 419.2,252.1 420.8,251.5 422.4,251.8 424.1,248.1 425.7,246.8 427.3,246.2 429,244 430.6,238.1 432.2,231.3 433.9,224.6 435.5,219.8 437.2,211.1 438.8,202.7 440.4,193 442.1,182.7 443.7,170.9 445.3,157.2 447,142.8 448.6,132.8 450.2,128.2 451.9,125 453.5,124.9 455.1,125.5 456.8,127.8 458.4,134 460,140 461.7,146 463.3,155 464.9,162.5 466.6,168.8 468.2,174.3 469.9,180.1 471.5,183.6 473.1,189 474.8,195.6 476.4,199.4 478,204.5 479.7,207.5 481.3,208.9 482.9,208.9 484.6,212.1 486.2,213.1 487.8,214.9 489.5,218.6 491.1,216.8 492.7,222.7 494.4,224.6 496,225.8 497.7,224.9 499.3,228.2 500.9,230.3 502.6,229.5 504.2,229.3 505.8,231.9 507.5,232.9 509.1,231.6 510.7,232.3 512.4,233 514,236 515.6,234.9 517.3,235.2 518.9,238.8 520.5,234.8 522.2,236.7 523.8,237.6 525.4,234.1 527.1,237.4 528.7,238.9 530.4,238.1 532,237.2 533.6,236.8 535.3,237.9 536.9,238.9 538.5,238.8 540.2,239.3 541.8,240.3 543.4,239.4 545.1,240.6 546.7,240.2 548.3,241.7 550,241.9 551.6,241.2 553.2,241.6 554.9,239.7 556.5,242.7 558.1,241.4 559.8,241.9 561.4,243.8 563.1,241.1 564.7,242.1 566.3,245.3 568,241.7 569.6,241.4 571.2,243.9 572.9,240.5 574.5,242.7 576.1,244.5 577.8,242.2 579.4,243.5 581,244.8 582.7,245.9 584.3,242.5 585.9,243.8 587.6,241.8 589.2,242.1 590.8,243.1 592.5,242.9 594.1,239.5 595.8,239.2 597.4,240.1 599,241.2 600.7,241.6 602.3,240.5 603.9,237.5 605.6,239.1 607.2,240.3 608.8,241.9 610.5,240.4 612.1,242.2 613.7,241.4 615.4,240.8 617,240.6 618.6,242.1 620.3,243 621.9,242.4 623.5,240.5 625.2,242.6 626.8,245.1 628.5,241.3 630.1,243.2 631.7,239.1 633.4,244.5 635,244.2 636.6,244.6 638.3,243.8 639.9,245.3 641.5,246.6 643.2,247.3 644.8,245 646.4,245.5 648.1,245.7 649.7,242.1 651.3,243.9 653,243.5 654.6,245.7 656.2,244.6 657.9,245.2 659.5,245.2 661.2,243.8 662.8,243.7 664.4,243.8 666.1,243.5 667.7,245.2 669.3,243.8 671,242.1 672.6,243.3 674.2,244.2 675.9,243.2 677.5,245.3 679.1,245.3 680.8,243.4 682.4,245.2 684,242.9 685.7,244.2 687.3,243.9 688.9,243.6 690.6,248.1 692.2,245.4 693.9,247.1 695.5,246.1 697.1,245.8 698.8,244.1 700.4,246 702,243.8 703.7,246.8 705.3,246.3 706.9,246.2 708.6,245.1 710.2,246.5 711.8,247.3 713.5,246.9 715.1,248.4 716.7,244.8 718.4,245.5 720,245.8 721.6,246 723.3,247.1 724.9,246.7 726.6,245 728.2,247" fill="none" stroke="#861616" stroke-width="1.5" stroke-linejoin="round" marker-start="url(#dM1)" marker-mid="url(#dM1)" marker-end="url(#dM1)"/>
<polyline points="412.6,250.6 414.3,251.5 415.9,251.5 417.5,251.8 419.2,251 420.8,251.2 422.4,251 424.1,250.6 425.7,249 427.3,246.8 429,246.5 430.6,243.3 432.2,238.6 433.9,232.7 435.5,227.1 437.2,223.6 438.8,215.5 440.4,208.8 442.1,200.8 443.7,192.9 445.3,182.5 447,172.2 448.6,165.4 450.2,162 451.9,159.8 453.5,159.2 455.1,160.1 456.8,162 458.4,165.9 460,171.1 461.7,176.4 463.3,182.5 464.9,188.8 466.6,193 468.2,198.5 469.9,202.6 471.5,206.3 473.1,209.2 474.8,212.2 476.4,214.8 478,218.5 479.7,218.7 481.3,220.8 482.9,223.3 484.6,224.3 486.2,224.6 487.8,226.2 489.5,227 491.1,228.9 492.7,228.8 494.4,228.5 496,231.6 497.7,234.8 499.3,231.8 500.9,235.1 502.6,236.6 504.2,238.2 505.8,235.5 507.5,235.2 509.1,235.7 510.7,237.6 512.4,236 514,238 515.6,238.9 517.3,238.4 518.9,238.6 520.5,239 522.2,238.9 523.8,242 525.4,238.2 527.1,240.8 528.7,239.7 530.4,241.5 532,240.6 533.6,241 535.3,242.5 536.9,240.4 538.5,240.3 540.2,242.5 541.8,244.1 543.4,243.1 545.1,243.7 546.7,243 548.3,243.4 550,241.8 551.6,243 553.2,244 554.9,243.7 556.5,246.9 558.1,245 559.8,245 561.4,244.2 563.1,243.8 564.7,243.9 566.3,243.2 568,244.9 569.6,243.8 571.2,244.3 572.9,244.1 574.5,243.7 576.1,244.3 577.8,243.7 579.4,244 581,242.8 582.7,244 584.3,243.5 585.9,241.1 587.6,243.1 589.2,243.2 590.8,242.5 592.5,244.6 594.1,242.7 595.8,242.5 597.4,242.6 599,241.8 600.7,241.8 602.3,241.3 603.9,243.2 605.6,242.2 607.2,243.4 608.8,242 610.5,243.5 612.1,245.3 613.7,244.3 615.4,245.8 617,244.1 618.6,245.6 620.3,247.6 621.9,246 623.5,244.7 625.2,245.5 626.8,246.5 628.5,245.3 630.1,245.5 631.7,244.6 633.4,245.2 635,245.8 636.6,246.9 638.3,245.9 639.9,245.8 641.5,246.1 643.2,245.7 644.8,247.3 646.4,245.5 648.1,246 649.7,245.6 651.3,246.1 653,246.2 654.6,245.7 656.2,245.1 657.9,246.2 659.5,245.6 661.2,246.6 662.8,245.3 664.4,245.5 666.1,246.5 667.7,243.8 669.3,245.6 671,244.6 672.6,246.2 674.2,247 675.9,245.1 677.5,247.5 679.1,248.5 680.8,246.9 682.4,248.4 684,247.2 685.7,245.3 687.3,247.5 688.9,246.9 690.6,246.7 692.2,247.1 693.9,247.5 695.5,245.9 697.1,247.5 698.8,247.1 700.4,247.3 702,248.7 703.7,247.1 705.3,247.3 706.9,246.6 708.6,246.5 710.2,245.6 711.8,248.9 713.5,247.5 715.1,247.3 716.7,247.6 718.4,246.2 720,246.6 721.6,246.3 723.3,247.9 724.9,247.2 726.6,246.2 728.2,246.5" fill="none" stroke="#e51b1b" stroke-width="1.5" stroke-linejoin="round" marker-start="url(#dM2)" marker-mid="url(#dM2)" marker-end="url(#dM2)"/>
<polyline points="412.6,251.6 414.3,251.9 415.9,251.7 417.5,251.3 419.2,251.5 420.8,251.2 422.4,251.8 424.1,251.2 425.7,250.9 427.3,250.4 429,249.6 430.6,249.3 432.2,246.5 433.9,245.8 435.5,244.2 437.2,243.1 438.8,241.6 440.4,239.5 442.1,237.5 443.7,235.1 445.3,232.2 447,229.3 448.6,227.7 450.2,226.7 451.9,226.1 453.5,226.1 455.1,226.3 456.8,226.6 458.4,227.4 460,228.7 461.7,229.8 463.3,231.2 464.9,232.3 466.6,233.2 468.2,233.9 469.9,235.6 471.5,235.6 473.1,236.6 474.8,236.8 476.4,237.6 478,238.4 479.7,239.4 481.3,239.5 482.9,240.5 484.6,240.9 486.2,241.8 487.8,241.8 489.5,242.1 491.1,241.9 492.7,242 494.4,243 496,242.7 497.7,242.7 499.3,242.7 500.9,243.4 502.6,243.4 504.2,243.9 505.8,243.5 507.5,244.8 509.1,244.2 510.7,245.6 512.4,243.9 514,244.4 515.6,246 517.3,245.5 518.9,246.1 520.5,246.4 522.2,245.9 523.8,246.3 525.4,245.6 527.1,246.4 528.7,246.8 530.4,246.5 532,246.4 533.6,246.2 535.3,246.3 536.9,247.2 538.5,247 540.2,246.9 541.8,247.4 543.4,246.9 545.1,247.5 546.7,247.5 548.3,247.6 550,247.5 551.6,248.2 553.2,246.6 554.9,247.8 556.5,247.9 558.1,248.3 559.8,247.6 561.4,248.1 563.1,247.4 564.7,247 566.3,247.2 568,247.7 569.6,246.9 571.2,247.6 572.9,247.5 574.5,247.5 576.1,247.7 577.8,247.4 579.4,248.1 581,248.4 582.7,247.1 584.3,248 585.9,247.8 587.6,247.6 589.2,248 590.8,248.3 592.5,247.9 594.1,248.2 595.8,247.5 597.4,247.9 599,247.8 600.7,247.3 602.3,248.2 603.9,248.2 605.6,247.3 607.2,247.2 608.8,247.8 610.5,248.3 612.1,247.6 613.7,248 615.4,247.9 617,249.2 618.6,248.5 620.3,248.9 621.9,249 623.5,248.3 625.2,248.2 626.8,248.7 628.5,248.6 630.1,247.9 631.7,248.2 633.4,248.6 635,248.3 636.6,248.5 638.3,249 639.9,248.7 641.5,248.4 643.2,248.3 644.8,249 646.4,248.9 648.1,248.8 649.7,249.2 651.3,248.2 653,248.5 654.6,248.1 656.2,249.6 657.9,249.1 659.5,248 661.2,249.4 662.8,249.6 664.4,248.7 666.1,248 667.7,248.3 669.3,248.9 671,248.3 672.6,248.4 674.2,248.6 675.9,248.7 677.5,248.7 679.1,248.7 680.8,248.6 682.4,248.8 684,249.3 685.7,250 687.3,249 688.9,249.9 690.6,248.3 692.2,249.7 693.9,249.9 695.5,249.9 697.1,248.9 698.8,249 700.4,248.8 702,248.9 703.7,249.3 705.3,248.6 706.9,249.2 708.6,249.5 710.2,248.5 711.8,248.6 713.5,249.2 715.1,248.9 716.7,248.4 718.4,248.4 720,249.2 721.6,248.3 723.3,249.9 724.9,248.8 726.6,248.7 728.2,248.9" fill="none" stroke="#ff4636" stroke-width="1.5" stroke-linejoin="round" marker-start="url(#dM3)" marker-mid="url(#dM3)" marker-end="url(#dM3)"/>
<polyline points="412.6,251.7 414.3,251.5 415.9,251.5 417.5,251.8 419.2,251.4 420.8,251.5 422.4,251.6 424.1,251.3 425.7,251.2 427.3,251.4 429,250.9 430.6,250.8 432.2,250.5 433.9,249.8 435.5,249.5 437.2,249.2 438.8,248.7 440.4,248.2 442.1,247.5 443.7,246.9 445.3,246.2 447,245.1 448.6,244.6 450.2,244.4 451.9,244.3 453.5,244.2 455.1,244.3 456.8,244.5 458.4,244.6 460,244.9 461.7,245.2 463.3,245.4 464.9,245.7 466.6,246 468.2,246 469.9,245.6 471.5,246.9 473.1,246.7 474.8,246.8 476.4,247 478,246.8 479.7,247.5 481.3,247.6 482.9,247.6 484.6,248.1 486.2,247.5 487.8,248.2 489.5,247.9 491.1,247.8 492.7,248.4 494.4,248.3 496,248.4 497.7,248 499.3,248.5 500.9,249 502.6,248.4 504.2,248.5 505.8,249.3 507.5,249.5 509.1,248.3 510.7,249 512.4,249.6 514,248.8 515.6,248.8 517.3,249.8 518.9,248.9 520.5,249.1 522.2,249.3 523.8,249.5 525.4,249.3 527.1,249.6 528.7,249.3 530.4,249.4 532,249.5 533.6,249.2 535.3,249 536.9,249 538.5,249.1 540.2,248.8 541.8,249.6 543.4,249.3 545.1,249.3 546.7,249.1 548.3,249.9 550,249.5 551.6,249.5 553.2,249.4 554.9,248.9 556.5,249.4 558.1,249.4 559.8,249.3 561.4,249.2 563.1,249.5 564.7,249.1 566.3,249.8 568,249.2 569.6,249.4 571.2,249.3 572.9,249.2 574.5,249.7 576.1,249.6 577.8,249.6 579.4,249.9 581,249.9 582.7,250 584.3,249.6 585.9,250.4 587.6,250.1 589.2,249.8 590.8,249.6 592.5,249.9 594.1,249.6 595.8,249.8 597.4,249.9 599,250.1 600.7,249.7 602.3,249.3 603.9,249.6 605.6,249.9 607.2,249.6 608.8,250 610.5,250.1 612.1,249.6 613.7,249.8 615.4,249.7 617,249.9 618.6,250 620.3,250 621.9,250.1 623.5,249.8 625.2,250.3 626.8,250.5 628.5,250.2 630.1,249.8 631.7,250.2 633.4,250.6 635,249.5 636.6,250.3 638.3,250.2 639.9,250 641.5,250.1 643.2,250.2 644.8,250.6 646.4,250.1 648.1,250.5 649.7,250.3 651.3,250.1 653,250.4 654.6,250.8 656.2,250.5 657.9,250.3 659.5,250.2 661.2,250.7 662.8,250.4 664.4,250.3 666.1,250 667.7,250.1 669.3,250.1 671,250.2 672.6,250 674.2,250 675.9,250.3 677.5,250.4 679.1,250 680.8,250.4 682.4,250.5 684,250.2 685.7,250.6 687.3,250.5 688.9,250.1 690.6,250.3 692.2,250.1 693.9,250.1 695.5,250.4 697.1,250.1 698.8,250.3 700.4,250.2 702,250.2 703.7,250.2 705.3,250.5 706.9,250.2 708.6,250.2 710.2,250.1 711.8,250.5 713.5,250.2 715.1,250.3 716.7,250.4 718.4,250.4 720,250.4 721.6,250.6 723.3,250.5 724.9,250.5 726.6,250.3 728.2,250.4" fill="none" stroke="#ff6a1a" stroke-width="1.5" stroke-linejoin="round" marker-start="url(#dM4)" marker-mid="url(#dM4)" marker-end="url(#dM4)"/>
<polyline points="412.6,251.6 414.3,251.6 415.9,251.6 417.5,251.7 419.2,251.6 420.8,251.7 422.4,251.7 424.1,251.6 425.7,251.6 427.3,251.7 429,251.4 430.6,251.5 432.2,251.2 433.9,251 435.5,250.9 437.2,250.3 438.8,250.4 440.4,250.1 442.1,249.8 443.7,249.4 445.3,249.1 447,248.6 448.6,248.4 450.2,248.2 451.9,248.1 453.5,248.1 455.1,248.1 456.8,248.2 458.4,248.4 460,248.5 461.7,248.6 463.3,248.8 464.9,249 466.6,249.1 468.2,249.1 469.9,249.5 471.5,249.5 473.1,249.7 474.8,249.6 476.4,250 478,249.8 479.7,249.8 481.3,249.9 482.9,249.8 484.6,249.9 486.2,250.1 487.8,250.2 489.5,250.3 491.1,250.1 492.7,250.2 494.4,250.2 496,250.4 497.7,250.1 499.3,250.2 500.9,250.2 502.6,250.5 504.2,250 505.8,250.2 507.5,250.5 509.1,250.3 510.7,250.4 512.4,250.5 514,250.5 515.6,250.4 517.3,250.4 518.9,250.4 520.5,250.5 522.2,250.6 523.8,250.4 525.4,250.5 527.1,250.5 528.7,250.4 530.4,250.2 532,250.5 533.6,250.3 535.3,250.5 536.9,250.2 538.5,250.2 540.2,250.3 541.8,250.4 543.4,250.5 545.1,250.5 546.7,250.3 548.3,250.4 550,250.2 551.6,250.6 553.2,250.6 554.9,250.5 556.5,250.5 558.1,250.6 559.8,250.6 561.4,250.6 563.1,250.4 564.7,250.6 566.3,250.7 568,250.6 569.6,251 571.2,250.8 572.9,250.8 574.5,250.7 576.1,251 577.8,250.8 579.4,250.9 581,250.6 582.7,250.6 584.3,250.8 585.9,250.7 587.6,250.9 589.2,250.7 590.8,250.7 592.5,250.6 594.1,250.8 595.8,251 597.4,250.5 599,250.8 600.7,250.7 602.3,250.6 603.9,250.3 605.6,250.6 607.2,250.4 608.8,250.6 610.5,250.8 612.1,250.6 613.7,250.6 615.4,250.8 617,251 618.6,250.4 620.3,250.5 621.9,250.8 623.5,250.8 625.2,250.7 626.8,250.8 628.5,251.1 630.1,251.1 631.7,250.8 633.4,250.7 635,250.8 636.6,250.8 638.3,251 639.9,250.8 641.5,250.8 643.2,250.9 644.8,250.8 646.4,250.8 648.1,251.1 649.7,250.8 651.3,251.1 653,251.1 654.6,250.8 656.2,251.2 657.9,251 659.5,250.9 661.2,250.9 662.8,251 664.4,251 666.1,250.8 667.7,250.7 669.3,250.8 671,250.9 672.6,250.9 674.2,250.8 675.9,250.8 677.5,250.7 679.1,250.9 680.8,250.8 682.4,251 684,251.1 685.7,250.8 687.3,250.9 688.9,251 690.6,250.9 692.2,251 693.9,250.9 695.5,251.1 697.1,250.9 698.8,251 700.4,250.9 702,250.9 703.7,250.9 705.3,251.1 706.9,250.9 708.6,251 710.2,251.1 711.8,251 713.5,250.9 715.1,250.9 716.7,250.7 718.4,251 720,251 721.6,250.7 723.3,251 724.9,251.1 726.6,251 728.2,251" fill="none" stroke="#ffc318" stroke-width="1.5" stroke-linejoin="round" marker-start="url(#dM5)" marker-mid="url(#dM5)" marker-end="url(#dM5)"/>
</g>
<path d="M452.4 266.8 v4.6 M452.4 12.8 v4.6 M501.5 266.8 v2.8 M501.5 12.8 v2.8 M550.6 266.8 v4.6 M550.6 12.8 v4.6 M599.7 266.8 v2.8 M599.7 12.8 v2.8 M648.8 266.8 v4.6 M648.8 12.8 v4.6 M697.9 266.8 v2.8 M697.9 12.8 v2.8 M412.6 251.7 h-4.6 M728.1 251.7 h-4.6 M412.6 221.2 h-2.8 M728.1 221.2 h-2.8 M412.6 190.6 h-4.6 M728.1 190.6 h-4.6 M412.6 160.1 h-2.8 M728.1 160.1 h-2.8 M412.6 129.6 h-4.6 M728.1 129.6 h-4.6 M412.6 99.0 h-2.8 M728.1 99.0 h-2.8 M412.6 68.5 h-4.6 M728.1 68.5 h-4.6 M412.6 38.0 h-2.8 M728.1 38.0 h-2.8" stroke="#000" stroke-width="1.6" fill="none"/>
<rect x="412.6" y="12.8" width="315.5" height="254.0" fill="none" stroke="#000" stroke-width="1.8"/>
<text x="404.40" y="259.00" font-size="21.4" text-anchor="end">0</text>
<text x="404.40" y="197.94" font-size="21.4" text-anchor="end">200</text>
<text x="404.40" y="136.88" font-size="21.4" text-anchor="end">400</text>
<text x="404.40" y="75.82" font-size="21.4" text-anchor="end">600</text>
<text x="452.40" y="292.90" font-size="21.4" text-anchor="middle">0.0</text>
<text x="550.60" y="292.90" font-size="21.4" text-anchor="middle">2.0</text>
<text x="648.80" y="292.90" font-size="21.4" text-anchor="middle">4.0</text>
<text x="579.30" y="318.00" font-size="24" text-anchor="middle" textLength="164.0" lengthAdjust="spacingAndGlyphs">Time delay (ps)</text>
<text transform="translate(361.30,134.90) rotate(-90)" font-size="23.6" text-anchor="middle" textLength="150.6" lengthAdjust="spacingAndGlyphs">PE. I. (counts)</text>
<path d="M470.8 37.5 H493.2" stroke="#2e0a0a" stroke-width="1.6"/>
<circle cx="482" cy="37.5" r="2.3" fill="url(#dL0)" stroke="#2e0a0a" stroke-width="0.7"/>
<text x="504.20" y="43.60" font-size="17">1</text>
<path d="M470.8 61.0 H493.2" stroke="#861616" stroke-width="1.6"/>
<circle cx="482" cy="61.0" r="2.3" fill="url(#dL1)" stroke="#861616" stroke-width="0.7"/>
<text x="504.20" y="67.06" font-size="17">2</text>
<path d="M470.8 84.4 H493.2" stroke="#e51b1b" stroke-width="1.6"/>
<circle cx="482" cy="84.4" r="2.3" fill="url(#dL2)" stroke="#e51b1b" stroke-width="0.7"/>
<text x="504.20" y="90.52" font-size="17">3</text>
<path d="M470.8 107.9 H493.2" stroke="#ff4636" stroke-width="1.6"/>
<circle cx="482" cy="107.9" r="2.3" fill="url(#dL3)" stroke="#ff4636" stroke-width="0.7"/>
<text x="504.20" y="113.98" font-size="17">4</text>
<path d="M470.8 131.3 H493.2" stroke="#ff6a1a" stroke-width="1.6"/>
<circle cx="482" cy="131.3" r="2.3" fill="url(#dL4)" stroke="#ff6a1a" stroke-width="0.7"/>
<text x="504.20" y="137.44" font-size="17">5</text>
<path d="M470.8 154.8 H493.2" stroke="#ffc318" stroke-width="1.6"/>
<circle cx="482" cy="154.8" r="2.3" fill="url(#dL5)" stroke="#ffc318" stroke-width="0.7"/>
<text x="504.20" y="160.90" font-size="17">6</text>
<rect x="559.7" y="30.7" width="158.29999999999995" height="136.0" fill="#fff"/>
<g clip-path="url(#iClip)">
<polyline points="559.4,156.7 560.2,156.2 561.1,155.6 561.9,155.3 562.7,155.2 563.5,155.3 564.4,154.8 565.2,154.1 566,153.1 566.8,150.9 567.7,147.5 568.5,143.2 569.3,137.9 570.1,132.5 571,125.7 571.8,118.9 572.6,110.9 573.5,102.3 574.3,94.5 575.1,82.6 575.9,71 576.8,61.1 577.6,56.2 578.4,52.2 579.2,51.2 580.1,51.6 580.9,53.7 581.7,59.2 582.5,65.7 583.4,72.6 584.2,80.9 585,88.2 585.8,96.1 586.7,99.7 587.5,106.4 588.3,110.2 589.1,117.1 590,122 590.8,126.3 591.6,126.8 592.4,128.5 593.3,131.4 594.1,132.6 594.9,134.8 595.7,136.2 596.6,137.1 597.4,140.3 598.2,140.1 599.1,139.4 599.9,140.1 600.7,139.5 601.5,140.8 602.4,141.8 603.2,142.9 604,146.9 604.8,144 605.7,145.9 606.5,144.3 607.3,145.9 608.1,146.4 609,147.2 609.8,147.2 610.6,150.2 611.4,150 612.3,146 613.1,147.6 613.9,149.2 614.7,149.4 615.6,149.7 616.4,144.4 617.2,148.8 618,149.9 618.9,151.2 619.7,154 620.5,150.4 621.4,148.6 622.2,149.5 623,150.7 623.8,152.3 624.7,153.4 625.5,151.5 626.3,152.4 627.1,153.7 628,149.4 628.8,153.6 629.6,153 630.4,156 631.3,149.6 632.1,152.6 632.9,152.5 633.7,152 634.6,153.8 635.4,153.5 636.2,152.1 637,153.9 637.9,152.1 638.7,150.7 639.5,151.5 640.3,150.5 641.2,151.1 642,150 642.8,152.4 643.6,152.2 644.5,154.6 645.3,153.2 646.1,154.1 647,153.1 647.8,154.6 648.6,152.5 649.4,148.9 650.3,154.3 651.1,152.2 651.9,152.1 652.7,154.3 653.6,153.6 654.4,154 655.2,152.5 656,154.3 656.9,149.1 657.7,151.9 658.5,151.5 659.3,149.9 660.2,151.2 661,153.6 661.8,152.8 662.6,153.4 663.5,153 664.3,151.9 665.1,156.7 665.9,156.2 666.8,154.1 667.6,152.9 668.4,154.4 669.2,153.9 670.1,151.9 670.9,152.6 671.7,153.8 672.6,154.2 673.4,156.1 674.2,153 675,153.6 675.9,155.3 676.7,153 677.5,154.4 678.3,154.4 679.2,156.5 680,152.4 680.8,155.1 681.6,153.4 682.5,153.5 683.3,154.8 684.1,154 684.9,154.3 685.8,154.4 686.6,153.7 687.4,155 688.2,152.9 689.1,153.9 689.9,155.9 690.7,153.4 691.5,154.7 692.4,153.3 693.2,157.9 694,153.6 694.8,157.7 695.7,154.9 696.5,149 697.3,153.1 698.2,152.5 699,155.4 699.8,156 700.6,154.4 701.5,153.6 702.3,154.4 703.1,155.4 703.9,155.7 704.8,154.9 705.6,151.7 706.4,154.3 707.2,154.9 708.1,154.7 708.9,155.8 709.7,156.4 710.5,154 711.4,152.1 712.2,153.5 713,156.5 713.8,151.8 714.7,153.8 715.5,151.2 716.3,154.5 717.1,156.4 718,153.9 718.8,154.5" fill="none" stroke="#2e0a0a" stroke-width="1.2" stroke-linejoin="round" marker-start="url(#dI0)" marker-mid="url(#dI0)" marker-end="url(#dI0)"/>
<polyline points="559.4,156.8 560.2,156.6 561.1,156.3 561.9,156.3 562.7,155.4 563.5,155.2 564.4,155.1 565.2,154.2 566,152.2 566.8,150.5 567.7,148.4 568.5,143.2 569.3,137 570.1,131.9 571,126.1 571.8,118 572.6,109.9 573.5,102.5 574.3,94.5 575.1,83.1 575.9,69.6 576.8,60.8 577.6,55.3 578.4,52.4 579.2,51.4 580.1,51 580.9,53.2 581.7,58 582.5,64.5 583.4,71.5 584.2,77.4 585,88.1 585.8,94.8 586.7,98 587.5,105.9 588.3,109.4 589.1,115.5 590,117.1 590.8,121.7 591.6,123.3 592.4,127.2 593.3,128.1 594.1,132.7 594.9,129.5 595.7,131.3 596.6,132.9 597.4,133.8 598.2,135.4 599.1,135.8 599.9,133.6 600.7,138.2 601.5,138.7 602.4,137.5 603.2,138.8 604,140.6 604.8,137.6 605.7,138 606.5,141.7 607.3,138.7 608.1,144.3 609,140 609.8,145.6 610.6,142.7 611.4,143.9 612.3,144.7 613.1,143.4 613.9,146.3 614.7,146.3 615.6,147.2 616.4,143.1 617.2,146.9 618,145.5 618.9,146.8 619.7,144.9 620.5,148.6 621.4,148.5 622.2,148.3 623,147.2 623.8,149 624.7,147.1 625.5,147.1 626.3,146.4 627.1,147.4 628,146 628.8,149.1 629.6,149.4 630.4,149.8 631.3,149.9 632.1,151.1 632.9,148.2 633.7,148.8 634.6,152.6 635.4,149.3 636.2,150.4 637,150.7 637.9,149.7 638.7,147.2 639.5,149.1 640.3,152.8 641.2,148.9 642,151 642.8,146.7 643.6,150.4 644.5,149.7 645.3,150 646.1,151.1 647,150.4 647.8,149.9 648.6,146 649.4,149.6 650.3,149 651.1,149.7 651.9,149.6 652.7,149.4 653.6,147.6 654.4,155.1 655.2,151.2 656,151.6 656.9,148.7 657.7,151.6 658.5,148.6 659.3,148.4 660.2,151.2 661,149.4 661.8,151.2 662.6,149 663.5,149.5 664.3,148.4 665.1,149.1 665.9,152.2 666.8,148.1 667.6,150.5 668.4,148.8 669.2,150.5 670.1,149.1 670.9,152.7 671.7,148.4 672.6,152.4 673.4,151 674.2,150 675,153.4 675.9,150.2 676.7,150.8 677.5,149.5 678.3,151.1 679.2,152.6 680,152.8 680.8,152.4 681.6,150.8 682.5,151.3 683.3,150 684.1,148.4 684.9,151.6 685.8,151.9 686.6,150.5 687.4,150.4 688.2,154.8 689.1,152.3 689.9,151.1 690.7,150.2 691.5,152.1 692.4,153 693.2,147.8 694,156.6 694.8,148.9 695.7,152.5 696.5,152.1 697.3,151.5 698.2,150.9 699,153.1 699.8,153.9 700.6,151 701.5,149.4 702.3,152.1 703.1,147.7 703.9,153.8 704.8,150.2 705.6,150.8 706.4,149.4 707.2,153.6 708.1,150.6 708.9,151.9 709.7,155.6 710.5,152.5 711.4,154.2 712.2,152.4 713,150.7 713.8,151.9 714.7,148.6 715.5,150.6 716.3,152.8 717.1,152.3 718,151.1 718.8,153" fill="none" stroke="#861616" stroke-width="1.2" stroke-linejoin="round" marker-start="url(#dI1)" marker-mid="url(#dI1)" marker-end="url(#dI1)"/>
<polyline points="559.4,156.1 560.2,156 561.1,155.7 561.9,155.9 562.7,155.6 563.5,155.8 564.4,154.8 565.2,154 566,152.4 566.8,150.5 567.7,148.2 568.5,143.5 569.3,138 570.1,132.5 571,126.4 571.8,119 572.6,110.7 573.5,103.5 574.3,93.3 575.1,82.2 575.9,69.9 576.8,60.8 577.6,55.7 578.4,52.2 579.2,51.2 580.1,51 580.9,53.3 581.7,58 582.5,63.2 583.4,70.8 584.2,78 585,84.1 585.8,90.7 586.7,97.1 587.5,101.1 588.3,106.5 589.1,109.6 590,114.3 590.8,119 591.6,118.1 592.4,122.4 593.3,123.9 594.1,126.3 594.9,126.7 595.7,128.4 596.6,128.1 597.4,129.2 598.2,129.1 599.1,130.5 599.9,133.1 600.7,134.2 601.5,135 602.4,133 603.2,136.2 604,133.3 604.8,135.8 605.7,136.6 606.5,136.8 607.3,134.8 608.1,137.8 609,138.9 609.8,140.4 610.6,141.7 611.4,140.6 612.3,138 613.1,139.4 613.9,141.8 614.7,144.8 615.6,139.5 616.4,141 617.2,145.1 618,142.4 618.9,144.1 619.7,141 620.5,141.8 621.4,144.2 622.2,146.9 623,144 623.8,139.6 624.7,143.2 625.5,145 626.3,142.8 627.1,145.3 628,141.9 628.8,147.5 629.6,145.5 630.4,142.4 631.3,143.1 632.1,144.1 632.9,147.5 633.7,145.2 634.6,144.2 635.4,146.1 636.2,145.4 637,144.1 637.9,146.2 638.7,144.8 639.5,146.2 640.3,147.7 641.2,148.3 642,147.1 642.8,147.5 643.6,144.4 644.5,146 645.3,149.3 646.1,143.8 647,142.3 647.8,147.1 648.6,145.5 649.4,146.6 650.3,145.2 651.1,146.4 651.9,145.8 652.7,146.7 653.6,147.7 654.4,147.3 655.2,148.1 656,148 656.9,147.6 657.7,142.7 658.5,145.7 659.3,144 660.2,149.6 661,147.6 661.8,145.6 662.6,145.2 663.5,146.5 664.3,148.1 665.1,149.8 665.9,147.1 666.8,150.3 667.6,147.1 668.4,148.5 669.2,148.8 670.1,148.9 670.9,150.4 671.7,150 672.6,147.3 673.4,149.1 674.2,149.3 675,146.5 675.9,147.1 676.7,147.5 677.5,150.7 678.3,146.4 679.2,147.3 680,149.9 680.8,149.2 681.6,146.8 682.5,146.3 683.3,148.9 684.1,150.2 684.9,146.3 685.8,149.2 686.6,147 687.4,148.3 688.2,148.6 689.1,149.1 689.9,146 690.7,149.1 691.5,148.4 692.4,149.6 693.2,145.2 694,148.5 694.8,150.5 695.7,148.8 696.5,151.6 697.3,149.1 698.2,150.8 699,146.7 699.8,146.3 700.6,144.8 701.5,149.3 702.3,150.3 703.1,152.3 703.9,148.4 704.8,150.1 705.6,146.6 706.4,145.4 707.2,151.3 708.1,149.1 708.9,146 709.7,151.4 710.5,151 711.4,147.5 712.2,148.4 713,152.1 713.8,148.2 714.7,149.6 715.5,149 716.3,148.4 717.1,146.1 718,147.6 718.8,150.7" fill="none" stroke="#e51b1b" stroke-width="1.2" stroke-linejoin="round" marker-start="url(#dI2)" marker-mid="url(#dI2)" marker-end="url(#dI2)"/>
<polyline points="559.4,155.7 560.2,155.9 561.1,155.9 561.9,156.2 562.7,156 563.5,155.3 564.4,154.2 565.2,153.8 566,152.4 566.8,150.5 567.7,147.8 568.5,143.4 569.3,137.7 570.1,132.8 571,125.7 571.8,118.2 572.6,110.8 573.5,101.9 574.3,92.8 575.1,82.6 575.9,70.9 576.8,60.7 577.6,56.2 578.4,52.3 579.2,51.5 580.1,51.4 580.9,53.2 581.7,57.7 582.5,61.9 583.4,69.4 584.2,76.2 585,83 585.8,89.5 586.7,94.3 587.5,100.3 588.3,103.1 589.1,106.7 590,112.1 590.8,116.4 591.6,116.9 592.4,117.1 593.3,118.6 594.1,120.6 594.9,123.7 595.7,122.9 596.6,124.9 597.4,124.2 598.2,125.6 599.1,128.8 599.9,127.7 600.7,128.4 601.5,127.6 602.4,126.9 603.2,133 604,132 604.8,132.6 605.7,133 606.5,133.1 607.3,130.3 608.1,132.4 609,134.1 609.8,133.4 610.6,134.4 611.4,136 612.3,135.5 613.1,134.9 613.9,134.2 614.7,138.3 615.6,136.6 616.4,136.6 617.2,136.7 618,138.3 618.9,138.6 619.7,141 620.5,140.3 621.4,139.9 622.2,140.3 623,138.5 623.8,140.1 624.7,140.5 625.5,141.3 626.3,139.9 627.1,142.8 628,137.6 628.8,142.9 629.6,141.8 630.4,140.8 631.3,141 632.1,140.2 632.9,144.8 633.7,141.3 634.6,143.5 635.4,138.9 636.2,145.1 637,141.8 637.9,140.6 638.7,141.9 639.5,141.5 640.3,141.8 641.2,141.2 642,140.2 642.8,142 643.6,140.1 644.5,142.2 645.3,140.6 646.1,144.7 647,139.6 647.8,141.6 648.6,141.4 649.4,139.5 650.3,144.2 651.1,144.6 651.9,147.6 652.7,140.9 653.6,142 654.4,139.2 655.2,142.9 656,142.4 656.9,143.1 657.7,142.8 658.5,142.8 659.3,144.5 660.2,144.8 661,144.2 661.8,145.7 662.6,141.1 663.5,145.1 664.3,144.3 665.1,143.9 665.9,145 666.8,141.2 667.6,143.3 668.4,142.2 669.2,146.7 670.1,145.6 670.9,148.4 671.7,142.2 672.6,145.5 673.4,143.3 674.2,142.3 675,147.2 675.9,143.3 676.7,145 677.5,144.1 678.3,144.3 679.2,143.8 680,145.1 680.8,147.7 681.6,146.5 682.5,145.2 683.3,145.2 684.1,147 684.9,146.3 685.8,145 686.6,143.1 687.4,145.2 688.2,146.4 689.1,145 689.9,147.3 690.7,144.6 691.5,148.1 692.4,144 693.2,146.7 694,143.2 694.8,146 695.7,146.4 696.5,145.2 697.3,146.2 698.2,145.8 699,142.1 699.8,144.6 700.6,144.7 701.5,149.6 702.3,143.4 703.1,144.5 703.9,146.1 704.8,148.1 705.6,148.7 706.4,147.6 707.2,146.1 708.1,145.6 708.9,145.4 709.7,145.5 710.5,145.9 711.4,146.5 712.2,148.6 713,142.1 713.8,144.3 714.7,144.2 715.5,146.4 716.3,148.7 717.1,143.3 718,147.8 718.8,149" fill="none" stroke="#ff4636" stroke-width="1.2" stroke-linejoin="round" marker-start="url(#dI3)" marker-mid="url(#dI3)" marker-end="url(#dI3)"/>
<polyline points="559.4,156 560.2,155.7 561.1,156.3 561.9,155.9 562.7,155.4 563.5,155.2 564.4,154.9 565.2,153.7 566,152.2 566.8,150.9 567.7,147.9 568.5,143.1 569.3,137.4 570.1,131.9 571,125.8 571.8,118.6 572.6,111.3 573.5,102.6 574.3,93.1 575.1,82.5 575.9,70.2 576.8,60.5 577.6,55.6 578.4,53.1 579.2,51.8 580.1,51.3 580.9,53 581.7,57.5 582.5,60.9 583.4,68.3 584.2,75.5 585,78.5 585.8,85.4 586.7,90.5 587.5,94 588.3,98.1 589.1,103.5 590,104.9 590.8,109.7 591.6,112 592.4,115 593.3,114.1 594.1,112.3 594.9,118.8 595.7,119.2 596.6,118 597.4,117 598.2,121.2 599.1,121.3 599.9,123.2 600.7,123.7 601.5,122.2 602.4,125.2 603.2,123.3 604,124.1 604.8,126.7 605.7,128.2 606.5,127.2 607.3,129.5 608.1,129.2 609,128.2 609.8,128.4 610.6,129.3 611.4,133.1 612.3,130.7 613.1,129.5 613.9,128.8 614.7,129.7 615.6,135.2 616.4,133.8 617.2,133.1 618,134.5 618.9,136 619.7,135.2 620.5,132.3 621.4,134.1 622.2,133.1 623,133.4 623.8,130.7 624.7,134.2 625.5,132.6 626.3,135.4 627.1,135 628,138 628.8,136.5 629.6,137.2 630.4,134.2 631.3,136.3 632.1,135.5 632.9,135.8 633.7,135.5 634.6,139.5 635.4,134.5 636.2,139.3 637,136.4 637.9,135 638.7,137.6 639.5,133.3 640.3,135.5 641.2,137.2 642,138.8 642.8,139.6 643.6,136.6 644.5,137.5 645.3,137 646.1,136.6 647,138.3 647.8,137.9 648.6,137 649.4,140 650.3,139.2 651.1,139.7 651.9,137.8 652.7,139.1 653.6,137.5 654.4,139.6 655.2,141.1 656,139 656.9,139.9 657.7,141 658.5,139.1 659.3,139.7 660.2,141.4 661,139.7 661.8,140 662.6,140 663.5,139.7 664.3,140.3 665.1,139 665.9,139.5 666.8,138.6 667.6,140 668.4,140.2 669.2,140.6 670.1,141.1 670.9,141 671.7,142.8 672.6,142.1 673.4,141.4 674.2,142.6 675,140.5 675.9,140.6 676.7,139.2 677.5,140.2 678.3,143.8 679.2,139.8 680,139.5 680.8,140.6 681.6,142.6 682.5,141.2 683.3,139.6 684.1,140.3 684.9,140.8 685.8,141.1 686.6,140.3 687.4,142.7 688.2,141.6 689.1,142.8 689.9,141.7 690.7,145.5 691.5,138.9 692.4,141.3 693.2,138.8 694,143.5 694.8,139.4 695.7,139.6 696.5,141.8 697.3,143 698.2,143.4 699,144.2 699.8,140.8 700.6,138.6 701.5,141.6 702.3,142.7 703.1,144.7 703.9,141.7 704.8,139.9 705.6,142.1 706.4,140.7 707.2,143 708.1,147 708.9,142.3 709.7,139 710.5,145.9 711.4,135.6 712.2,138.1 713,143.5 713.8,141 714.7,141.2 715.5,139.4 716.3,144.5 717.1,143.9 718,145.1 718.8,142.7" fill="none" stroke="#ff6a1a" stroke-width="1.2" stroke-linejoin="round" marker-start="url(#dI4)" marker-mid="url(#dI4)" marker-end="url(#dI4)"/>
<polyline points="559.4,156.5 560.2,156.4 561.1,156.2 561.9,156.3 562.7,154.6 563.5,155.2 564.4,154.3 565.2,153.5 566,152.5 566.8,151.1 567.7,148.2 568.5,143.5 569.3,137.6 570.1,131.2 571,125.7 571.8,119.4 572.6,111.1 573.5,102.5 574.3,93.4 575.1,83.6 575.9,70.6 576.8,60.2 577.6,55 578.4,51.8 579.2,51.5 580.1,51.8 580.9,52.9 581.7,56.5 582.5,60.9 583.4,64.5 584.2,69.3 585,76.1 585.8,82.4 586.7,83.6 587.5,88.5 588.3,92 589.1,95.2 590,97 590.8,98.5 591.6,101.9 592.4,103 593.3,103.6 594.1,106.2 594.9,107.9 595.7,107.8 596.6,108.3 597.4,109.9 598.2,111.9 599.1,111.5 599.9,112.3 600.7,110.9 601.5,114.3 602.4,113.4 603.2,114.8 604,114.9 604.8,113.7 605.7,112.3 606.5,116.1 607.3,116.3 608.1,116.5 609,117.3 609.8,118.9 610.6,120.1 611.4,119.7 612.3,119.1 613.1,119.2 613.9,120.8 614.7,122.9 615.6,120.5 616.4,121.6 617.2,122.1 618,120.4 618.9,119.3 619.7,121.8 620.5,121 621.4,126.1 622.2,121 623,124.9 623.8,124.4 624.7,122.2 625.5,124.2 626.3,124.7 627.1,121.2 628,123.3 628.8,122.7 629.6,123.8 630.4,126.4 631.3,125.1 632.1,128.1 632.9,124.2 633.7,126.8 634.6,127.1 635.4,126.1 636.2,128 637,126.2 637.9,128.6 638.7,126.1 639.5,128.8 640.3,130.2 641.2,124.2 642,126 642.8,128.1 643.6,130 644.5,128.5 645.3,128.8 646.1,129.4 647,127.2 647.8,129.3 648.6,126.9 649.4,128.9 650.3,126.2 651.1,130.8 651.9,129.3 652.7,129 653.6,131.1 654.4,130.5 655.2,130.4 656,128.7 656.9,130.1 657.7,129.5 658.5,131.9 659.3,129.9 660.2,133 661,129.5 661.8,132.9 662.6,129.8 663.5,130.9 664.3,132.7 665.1,132.2 665.9,131 666.8,132.5 667.6,134.1 668.4,129 669.2,132.1 670.1,129.8 670.9,132.2 671.7,135.9 672.6,130.8 673.4,132.4 674.2,132.7 675,131.1 675.9,134 676.7,131.6 677.5,133.8 678.3,134 679.2,134.2 680,135.1 680.8,134.9 681.6,134.7 682.5,131.7 683.3,132.5 684.1,133.4 684.9,131.9 685.8,135.2 686.6,133.8 687.4,133.4 688.2,134.5 689.1,133.6 689.9,133.1 690.7,132.1 691.5,136.3 692.4,136.4 693.2,135.8 694,136 694.8,134.5 695.7,134.3 696.5,134.7 697.3,133.7 698.2,135.4 699,135.3 699.8,135.6 700.6,135.5 701.5,133.6 702.3,134.4 703.1,133.3 703.9,135.5 704.8,135.9 705.6,136.6 706.4,137.3 707.2,134.6 708.1,133.4 708.9,136.4 709.7,134.9 710.5,136.7 711.4,135.4 712.2,135.2 713,136 713.8,135.6 714.7,135.7 715.5,133.9 716.3,136.4 717.1,134.9 718,138.7 718.8,134.1" fill="none" stroke="#ffc318" stroke-width="1.2" stroke-linejoin="round" marker-start="url(#dI5)" marker-mid="url(#dI5)" marker-end="url(#dI5)"/>
</g>
<path d="M579.5 166.7 v3.5 M579.5 30.7 v3.5 M604.3 166.7 v2.2 M604.3 30.7 v2.2 M629.1 166.7 v3.5 M629.1 30.7 v3.5 M653.9 166.7 v2.2 M653.9 30.7 v2.2 M678.7 166.7 v3.5 M678.7 30.7 v3.5 M703.5 166.7 v2.2 M703.5 30.7 v2.2 M559.7 156.3 h-3.5 M718.0 156.3 h-3.5 M559.7 103.9 h-2.2 M718.0 103.9 h-2.2 M559.7 51.4 h-3.5 M718.0 51.4 h-3.5" stroke="#000" stroke-width="1.2" fill="none"/>
<rect x="559.7" y="30.7" width="158.29999999999995" height="136.0" fill="none" stroke="#000" stroke-width="1.5"/>
<text x="554.60" y="56.70" font-size="16.7" text-anchor="end">1</text>
<text x="554.60" y="161.50" font-size="16.7" text-anchor="end">0</text>
<text x="579.50" y="185.70" font-size="17.2" text-anchor="middle">0.0</text>
<text x="629.10" y="185.70" font-size="17.2" text-anchor="middle">2.0</text>
<text x="678.70" y="185.70" font-size="17.2" text-anchor="middle">4.0</text>
<text x="638.90" y="202.70" font-size="17.7" text-anchor="middle" textLength="125.0" lengthAdjust="spacingAndGlyphs">Time delay (ps)</text>
<text transform="translate(540.20,101.10) rotate(-90)" font-size="17" text-anchor="middle" textLength="95.8" lengthAdjust="spacingAndGlyphs">Norm. PE. I.</text>
</g>
<g id="panel-e">
<text x="347.60" y="348.60" font-size="29" font-weight="bold">e</text>
<path d="M456.9 487.8 V500.6 M453.9 487.8 h6 M453.9 500.6 h6 M501.8 462.9 V472.7 M498.8 462.9 h6 M498.8 472.7 h6 M546.7 456.1 V465.8 M543.7 456.1 h6 M543.7 465.8 h6 M591.6 428.2 V433.3 M588.6 428.2 h6 M588.6 433.3 h6 M636.5 413.0 V417.2 M633.5 413.0 h6 M633.5 417.2 h6 M681.4 377.3 V380.8 M678.4 377.3 h6 M678.4 380.8 h6" stroke="#ee2a36" stroke-width="1.2" fill="none"/>
<polyline points="456.9,494.2 501.8,467.8 546.7,461 591.6,430.7 636.5,415.1 681.4,379.1" fill="none" stroke="#ee2a36" stroke-width="1.8"/>
<circle cx="456.9" cy="494.2" r="3.9" fill="url(#eGR)" stroke="#ee2a36" stroke-width="0.8"/>
<circle cx="501.8" cy="467.8" r="3.9" fill="url(#eGR)" stroke="#ee2a36" stroke-width="0.8"/>
<circle cx="546.7" cy="461.0" r="3.9" fill="url(#eGR)" stroke="#ee2a36" stroke-width="0.8"/>
<circle cx="591.6" cy="430.7" r="3.9" fill="url(#eGR)" stroke="#ee2a36" stroke-width="0.8"/>
<circle cx="636.5" cy="415.1" r="3.9" fill="url(#eGR)" stroke="#ee2a36" stroke-width="0.8"/>
<circle cx="681.4" cy="379.1" r="3.9" fill="url(#eGR)" stroke="#ee2a36" stroke-width="0.8"/>
<polyline points="456.9,558.8 501.8,555.3 546.7,554.2 591.6,549.3 636.5,551.5 681.4,545.8" fill="none" stroke="#484848" stroke-width="1.8"/>
<circle cx="456.9" cy="558.8" r="4.1" fill="url(#eGG)"/>
<circle cx="501.8" cy="555.3" r="4.1" fill="url(#eGG)"/>
<circle cx="546.7" cy="554.2" r="4.1" fill="url(#eGG)"/>
<circle cx="591.6" cy="549.3" r="4.1" fill="url(#eGG)"/>
<circle cx="636.5" cy="551.5" r="4.1" fill="url(#eGG)"/>
<circle cx="681.4" cy="545.8" r="4.1" fill="url(#eGG)"/>
<path d="M662.4 468 L560 492" stroke="url(#eArr)" stroke-width="3.6" fill="none"/>
<path d="M550.4 494.3 L567.6 483.8 L562.8 491.3 L569.4 497.6 Z" fill="#dc1030"/>
<text x="545.50" y="524.80" font-size="22" fill="#e6142f" textLength="155.5" lengthAdjust="spacingAndGlyphs">PE. I. increase</text>
<text x="424.00" y="481.70" font-size="29" font-family="Liberation Serif" font-style="italic">τ</text>
<text x="436.20" y="486.90" font-size="15.5" font-family="Liberation Serif">2</text>
<text x="427.60" y="547.30" font-size="29" font-family="Liberation Serif" font-style="italic">τ</text>
<text x="439.60" y="552.60" font-size="16" font-family="Liberation Serif">1</text>
<path d="M456.9 590.9 v4.6 M456.9 338.2 v4.6 M501.8 590.9 v4.6 M501.8 338.2 v4.6 M546.7 590.9 v4.6 M546.7 338.2 v4.6 M591.6 590.9 v4.6 M591.6 338.2 v4.6 M636.5 590.9 v4.6 M636.5 338.2 v4.6 M681.4 590.9 v4.6 M681.4 338.2 v4.6 M411.5 501.2 h-4.6 M727.6 501.2 h-4.6 M411.5 477.9 h-2.8 M727.6 477.9 h-2.8 M411.5 454.7 h-4.6 M727.6 454.7 h-4.6 M411.5 431.4 h-2.8 M727.6 431.4 h-2.8 M411.5 408.2 h-4.6 M727.6 408.2 h-4.6 M411.5 384.9 h-2.8 M727.6 384.9 h-2.8 M411.5 361.6 h-4.6 M727.6 361.6 h-4.6 M411.5 590.9 h-4.6 M727.6 590.9 h-4.6 M411.5 581.7 h-2.8 M727.6 581.7 h-2.8 M411.5 572.5 h-4.6 M727.6 572.5 h-4.6 M411.5 563.3 h-2.8 M727.6 563.3 h-2.8 M411.5 554.1 h-4.6 M727.6 554.1 h-4.6 M411.5 544.9 h-2.8 M727.6 544.9 h-2.8 M411.5 535.7 h-4.6 M727.6 535.7 h-4.6 M411.5 526.5 h-2.8 M727.6 526.5 h-2.8" stroke="#000" stroke-width="1.6" fill="none"/>
<rect x="411.5" y="338.2" width="316.1" height="252.7" fill="none" stroke="#000" stroke-width="1.8"/>
<rect x="408.5" y="513.2" width="6" height="3.6" fill="#fff"/>
<path d="M406.0 515.2 l11 -4.4 M406.0 519.4 l11 -4.4" stroke="#000" stroke-width="1.5"/>
<rect x="724.6" y="513.2" width="6" height="3.6" fill="#fff"/>
<path d="M722.1 515.2 l11 -4.4 M722.1 519.4 l11 -4.4" stroke="#000" stroke-width="1.5"/>
<text x="403.60" y="508.40" font-size="21.4" text-anchor="end">6</text>
<text x="403.60" y="461.88" font-size="21.4" text-anchor="end">10</text>
<text x="403.60" y="415.36" font-size="21.4" text-anchor="end">14</text>
<text x="403.60" y="368.84" font-size="21.4" text-anchor="end">18</text>
<text x="403.60" y="598.10" font-size="21.4" text-anchor="end">0</text>
<text x="403.60" y="579.70" font-size="21.4" text-anchor="end">0.2</text>
<text x="403.60" y="561.30" font-size="21.4" text-anchor="end">0.4</text>
<text x="403.60" y="542.90" font-size="21.4" text-anchor="end">0.6</text>
<text x="456.90" y="616.50" font-size="21.4" text-anchor="middle">1</text>
<text x="501.80" y="616.50" font-size="21.4" text-anchor="middle">2</text>
<text x="546.70" y="616.50" font-size="21.4" text-anchor="middle">3</text>
<text x="591.60" y="616.50" font-size="21.4" text-anchor="middle">4</text>
<text x="636.50" y="616.50" font-size="21.4" text-anchor="middle">5</text>
<text x="681.40" y="616.50" font-size="21.4" text-anchor="middle">6</text>
<text x="568.90" y="641.00" font-size="24" text-anchor="middle" textLength="84.6" lengthAdjust="spacingAndGlyphs">Position</text>
<text transform="translate(366.60,464.60) rotate(-90)" font-size="23.6" text-anchor="middle" textLength="165.5" lengthAdjust="spacingAndGlyphs">Decay time (ps)</text>
</g>
<g id="panel-f">
<text x="355.80" y="661.80" font-size="29" font-weight="bold">f</text>
<g clip-path="url(#fClip)">
<polyline points="410.9,890.8 412.6,890.5 414.3,891.6 415.9,891.4 417.6,890.3 419.3,888.8 420.9,887.7 422.6,886 424.3,881.1 425.9,872.3 427.6,860.6 429.3,844.2 431,824.2 432.6,800 434.3,776.4 436,754.8 437.6,727.9 439.3,697.7 441,698.1 442.6,701.6 444.3,710.9 446,733.4 447.6,746.1 449.3,764.7 451,784.7 452.6,798.6 454.3,819.1 456,831.2 457.6,837.7 459.3,844.2 461,848.8 462.7,853.2 464.3,860.9 466,861.6 467.7,865.6 469.3,865.5 471,868.7 472.7,870.5 474.3,871.8 476,874.5 477.7,874.3 479.3,876.1 481,872.7 482.7,876.7 484.3,876.5 486,879.4 487.7,879.5 489.3,879.1 491,877.2 492.7,877.7 494.3,878.8 496,880.5 497.7,877.4 499.4,881.9 501,882.1 502.7,880.6 504.4,883.1 506,881.7 507.7,881.1 509.4,883 511,882.7 512.7,883.6 514.4,885 516,889 517.7,886.6 519.4,885.3 521,889.5 522.7,888.3 524.4,887.5 526,886.1 527.7,890.2 529.4,889.2 531.1,888.3 532.7,888 534.4,890.9 536.1,886.4 537.7,890.4 539.4,887.8 541.1,889.7 542.7,889 544.4,887.2 546.1,888.7 547.7,889.6 549.4,891.3 551.1,890.8 552.7,892 554.4,887.1 556.1,892.3 557.7,893.8 559.4,887.8 561.1,888.4 562.8,890.8 564.4,889.1 566.1,891.5 567.8,891.3 569.4,889.8 571.1,890 572.8,891.3 574.4,888.4 576.1,889.7 577.8,890.7 579.4,892.6 581.1,890.8 582.8,891.5 584.4,891.3 586.1,890.1 587.8,892.2 589.4,891.1 591.1,890.4 592.8,891.1 594.4,888.4 596.1,894.3 597.8,892 599.5,893.6 601.1,892.1 602.8,888.5 604.5,894.5 606.1,892.7 607.8,891.4 609.5,892.3 611.1,891.2 612.8,894.8 614.5,891.2 616.1,894 617.8,894.4 619.5,891.9 621.1,892 622.8,893.8 624.5,893.9 626.1,893 627.8,892.8 629.5,893 631.2,894.2 632.8,896 634.5,890.8 636.2,892.4 637.8,894.4 639.5,894.8 641.2,893.5 642.8,893 644.5,895.4 646.2,890.3 647.8,891.6 649.5,892.6 651.2,891.6 652.8,891.7 654.5,890.4 656.2,891.6 657.8,890 659.5,889.5 661.2,892.1 662.8,892.3 664.5,892.8 666.2,891.9 667.9,892.5 669.5,891.4 671.2,891 672.9,890.6 674.5,893 676.2,889.8 677.9,891.8 679.5,891.5 681.2,892.1 682.9,894.3 684.5,891.1 686.2,894 687.9,889.9 689.5,891.5 691.2,889.4 692.9,890.7 694.5,890.7 696.2,889.8 697.9,891.9 699.6,889.7 701.2,892.2 702.9,891.7 704.6,893.1 706.2,891.4 707.9,891.3 709.6,893 711.2,894.2 712.9,892.5 714.6,891.8 716.2,892.7 717.9,893.9 719.6,893.6 721.2,893 722.9,896.4 724.6,893.5 726.2,890.6" fill="none" stroke="#4a4a4a" stroke-width="1.5" stroke-linejoin="round" marker-start="url(#fMG)" marker-mid="url(#fMG)" marker-end="url(#fMG)"/>
<polyline points="410.9,891.5 412.6,890.3 414.3,888.1 415.9,887.6 417.6,885.6 419.3,882.2 420.9,876.5 422.6,868.8 424.3,866.4 425.9,854.7 427.6,832.4 429.3,811.4 431,793.8 432.6,781.1 434.3,757.5 436,737.8 437.6,720.1 439.3,710.6 441,704.6 442.6,700.6 444.3,698.9 446,697.3 447.6,698.4 449.3,711.5 451,727.5 452.6,740.4 454.3,758.8 456,773.1 457.6,781.3 459.3,794.8 461,805.3 462.7,807.9 464.3,817.5 466,822 467.7,822.1 469.3,829.4 471,836.2 472.7,833.9 474.3,832.8 476,841.9 477.7,848.1 479.3,851.5 481,853.8 482.7,857.4 484.3,856.2 486,859.3 487.7,857.1 489.3,853.7 491,862 492.7,859.4 494.3,860.2 496,868.6 497.7,864.2 499.4,865 501,866.2 502.7,864.3 504.4,867.3 506,866 507.7,868 509.4,867.8 511,869.5 512.7,863.4 514.4,868.7 516,871.5 517.7,866.5 519.4,869.4 521,874.7 522.7,876.6 524.4,877.5 526,874 527.7,877.8 529.4,879 531.1,876.1 532.7,878.6 534.4,878.3 536.1,874.2 537.7,876.6 539.4,875.9 541.1,877.7 542.7,875.9 544.4,879 546.1,876.7 547.7,876.6 549.4,879.7 551.1,881.6 552.7,877.8 554.4,879.3 556.1,877.8 557.7,880.4 559.4,878.1 561.1,877.3 562.8,874.5 564.4,875.8 566.1,878.8 567.8,876.8 569.4,881.2 571.1,877.6 572.8,879.9 574.4,877.5 576.1,879.7 577.8,880.9 579.4,882 581.1,877.9 582.8,880.5 584.4,879.2 586.1,879.7 587.8,885 589.4,879.4 591.1,881.4 592.8,879.7 594.4,879.5 596.1,884.2 597.8,881 599.5,880.3 601.1,879.3 602.8,878 604.5,881.3 606.1,880.3 607.8,878.4 609.5,883.5 611.1,875.6 612.8,881.4 614.5,876.6 616.1,879.1 617.8,875.4 619.5,877.2 621.1,879.5 622.8,883 624.5,879.2 626.1,878.9 627.8,878.6 629.5,882.5 631.2,881.8 632.8,881.9 634.5,879.8 636.2,882.5 637.8,881.1 639.5,879.1 641.2,882.2 642.8,878.7 644.5,881.2 646.2,882.5 647.8,879.9 649.5,881.4 651.2,883.3 652.8,884.1 654.5,883.1 656.2,882.4 657.8,880.9 659.5,882.8 661.2,884.8 662.8,886.4 664.5,883.1 666.2,882.8 667.9,881.3 669.5,884.8 671.2,886.4 672.9,881.9 674.5,884 676.2,886.1 677.9,880 679.5,881.6 681.2,883.3 682.9,882.8 684.5,884.9 686.2,881.2 687.9,884.2 689.5,884.2 691.2,883.9 692.9,885.7 694.5,881.2 696.2,879.9 697.9,881.9 699.6,887.9 701.2,884.3 702.9,885.2 704.6,883.2 706.2,888.6 707.9,888.8 709.6,885.4 711.2,882.5 712.9,885.1 714.6,880.2 716.2,886.8 717.9,885.1 719.6,885.6 721.2,887.2 722.9,883.2 724.6,888.4 726.2,887.9" fill="none" stroke="#ee2a36" stroke-width="1.5" stroke-linejoin="round" marker-start="url(#fMR)" marker-mid="url(#fMR)" marker-end="url(#fMR)"/>
</g>
<path d="M445.0 909.2 v4.6 M445.0 658.5 v4.6 M495.1 909.2 v2.8 M495.1 658.5 v2.8 M545.2 909.2 v4.6 M545.2 658.5 v4.6 M595.3 909.2 v2.8 M595.3 658.5 v2.8 M645.4 909.2 v4.6 M645.4 658.5 v4.6 M695.5 909.2 v2.8 M695.5 658.5 v2.8 M411.5 889.9 h-4.6 M727.0 889.9 h-4.6 M411.5 841.8 h-2.8 M727.0 841.8 h-2.8 M411.5 793.8 h-4.6 M727.0 793.8 h-4.6 M411.5 745.7 h-2.8 M727.0 745.7 h-2.8 M411.5 697.6 h-4.6 M727.0 697.6 h-4.6" stroke="#000" stroke-width="1.6" fill="none"/>
<rect x="411.5" y="658.5" width="315.5" height="250.70000000000005" fill="none" stroke="#000" stroke-width="1.8"/>
<text x="403.60" y="897.10" font-size="21.4" text-anchor="end">0.0</text>
<text x="403.60" y="800.95" font-size="21.4" text-anchor="end">0.5</text>
<text x="403.60" y="704.80" font-size="21.4" text-anchor="end">1.0</text>
<text x="445.00" y="934.60" font-size="21.4" text-anchor="middle">0.0</text>
<text x="545.20" y="934.60" font-size="21.4" text-anchor="middle">2.0</text>
<text x="645.40" y="934.60" font-size="21.4" text-anchor="middle">4.0</text>
<text x="569.00" y="958.60" font-size="24" text-anchor="middle" textLength="164.0" lengthAdjust="spacingAndGlyphs">Time delay (ps)</text>
<text transform="translate(366.80,795.90) rotate(-90)" font-size="22.5" text-anchor="middle" textLength="116.5" lengthAdjust="spacingAndGlyphs">Norm. PE. I.</text>
<path d="M492.5 686.9 H517.6" stroke="#4a4a4a" stroke-width="1.5"/><circle cx="505.1" cy="686.9" r="2.1" fill="url(#fGG)" stroke="#3c3c3c" stroke-width="0.5"/>
<path d="M492.5 717.6 H517.6" stroke="#ee2a36" stroke-width="1.5"/><circle cx="505.1" cy="717.6" r="2.1" fill="url(#fGR)" stroke="#ee2a36" stroke-width="0.7"/>
<text x="528.20" y="694.10" font-size="20.3" textLength="33.3" lengthAdjust="spacingAndGlyphs">WS</text>
<text x="561.90" y="699.00" font-size="14.5">2</text>
<text x="575.00" y="694.10" font-size="20.3" textLength="135.2" lengthAdjust="spacingAndGlyphs">on 43-nm hBN</text>
<text x="528.60" y="724.10" font-size="20.3" textLength="140.6" lengthAdjust="spacingAndGlyphs">suspended WS</text>
<text x="669.80" y="729.00" font-size="14.5">2</text>
<text x="528.60" y="755.40" font-size="20.3" textLength="86.6" lengthAdjust="spacingAndGlyphs">position 1</text>
</g>
</svg>
</body></html>
